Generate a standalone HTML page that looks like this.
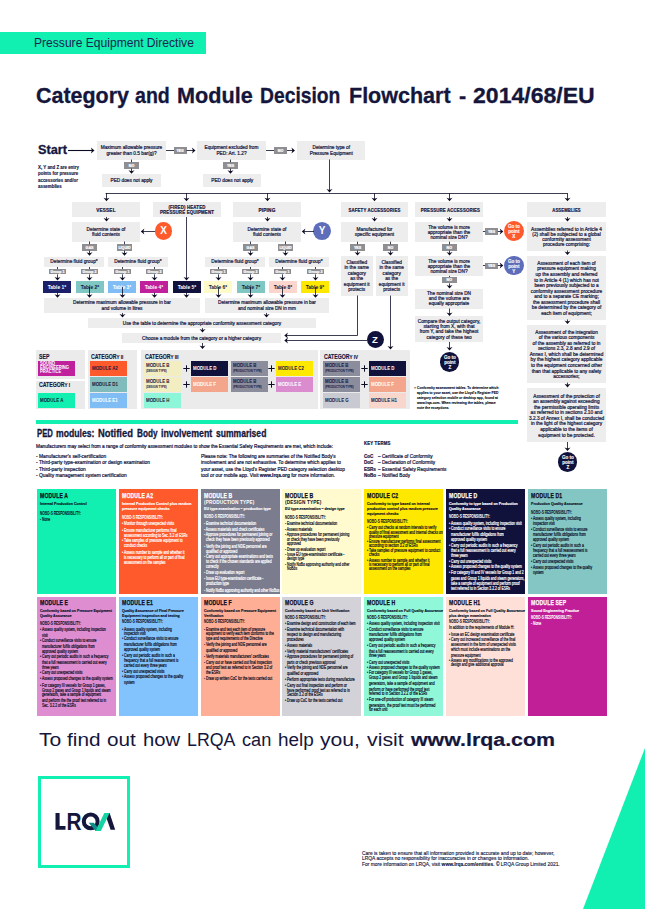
<!DOCTYPE html>
<html lang="en"><head><meta charset="utf-8"><title>Category and Module Decision Flowchart</title>
<style>
html,body{margin:0;padding:0;background:#fff;}
body{width:645px;height:909px;position:relative;overflow:hidden;font-family:"Liberation Sans",sans-serif;}
.a{position:absolute;}
svg.ov{position:absolute;left:0;top:0;z-index:5;pointer-events:none;}
.card{box-sizing:border-box;padding:3.6px 0 0 4.2px;overflow:hidden;}
.card div{white-space:pre;transform-origin:left top;}
.mt{font-size:7.1px;line-height:7.6px;font-weight:700;transform:scaleX(.8);letter-spacing:.2px;}
.mt2{font-size:5.6px;line-height:6.2px;font-weight:700;transform:scaleX(.84);letter-spacing:.15px;}
.ms{font-size:3.6px;line-height:5.1px;font-weight:700;transform:scaleX(.9);margin-top:.8px;}
.mn{font-size:4.3px;line-height:5.4px;font-weight:700;transform:scaleX(.74);}
.mi{font-size:4.3px;transform:scaleX(.8);margin-bottom:.55px;}
</style></head>
<body>
<svg class="ov" width="645" height="909" viewBox="0 0 645 909"><path d="M68 150.5L93.0 150.5" stroke="#0b0c24" stroke-width="1.1" fill="none"/>
<path d="M94.5 150.5L90.9 147.5L91.95 150.5L90.9 153.5Z" fill="#0b0c24"/>
<path d="M166 150.5L174 150.5" stroke="#0b0c24" stroke-width="0.8" fill="none"/>
<path d="M186.5 150.5L194.0 150.5" stroke="#0b0c24" stroke-width="0.8" fill="none"/>
<path d="M195.5 150.5L191.9 147.5L192.95 150.5L191.9 153.5Z" fill="#0b0c24"/>
<path d="M266 150.5L274 150.5" stroke="#0b0c24" stroke-width="0.8" fill="none"/>
<path d="M287 150.5L293.5 150.5" stroke="#0b0c24" stroke-width="0.8" fill="none"/>
<path d="M295 150.5L291.4 147.5L292.45 150.5L291.4 153.5Z" fill="#0b0c24"/>
<path d="M131.5 159.6L131.5 162.2" stroke="#0b0c24" stroke-width="0.8" fill="none"/>
<path d="M131.5 168.6L131.5 172.3" stroke="#0b0c24" stroke-width="0.8" fill="none"/>
<path d="M131.5 173.8L128.5 170.20000000000002L131.5 171.25L134.5 170.20000000000002Z" fill="#0b0c24"/>
<path d="M230.5 159.6L230.5 162.2" stroke="#0b0c24" stroke-width="0.8" fill="none"/>
<path d="M230.5 168.6L230.5 172.3" stroke="#0b0c24" stroke-width="0.8" fill="none"/>
<path d="M230.5 173.8L227.5 170.20000000000002L230.5 171.25L233.5 170.20000000000002Z" fill="#0b0c24"/>
<path d="M329.5 159.5L329.5 191.0" stroke="#0b0c24" stroke-width="0.8" fill="none"/>
<path d="M329.5 192.5L326.5 188.9L329.5 189.95L332.5 188.9Z" fill="#0b0c24"/>
<path d="M105.6 193.5L567.4 193.5" stroke="#0b0c24" stroke-width="0.8" fill="none"/>
<path d="M106.5 193L106.5 199.8" stroke="#0b0c24" stroke-width="0.8" fill="none"/>
<path d="M106.5 201.3L103.5 197.70000000000002L106.5 198.75L109.5 197.70000000000002Z" fill="#0b0c24"/>
<path d="M186.5 193L186.5 199.8" stroke="#0b0c24" stroke-width="0.8" fill="none"/>
<path d="M186.5 201.3L183.5 197.70000000000002L186.5 198.75L189.5 197.70000000000002Z" fill="#0b0c24"/>
<path d="M267.5 193L267.5 199.8" stroke="#0b0c24" stroke-width="0.8" fill="none"/>
<path d="M267.5 201.3L264.5 197.70000000000002L267.5 198.75L270.5 197.70000000000002Z" fill="#0b0c24"/>
<path d="M374.5 193L374.5 199.8" stroke="#0b0c24" stroke-width="0.8" fill="none"/>
<path d="M374.5 201.3L371.5 197.70000000000002L374.5 198.75L377.5 197.70000000000002Z" fill="#0b0c24"/>
<path d="M449.5 193L449.5 199.8" stroke="#0b0c24" stroke-width="0.8" fill="none"/>
<path d="M449.5 201.3L446.5 197.70000000000002L449.5 198.75L452.5 197.70000000000002Z" fill="#0b0c24"/>
<path d="M567.5 193L567.5 199.8" stroke="#0b0c24" stroke-width="0.8" fill="none"/>
<path d="M567.5 201.3L564.5 197.70000000000002L567.5 198.75L570.5 197.70000000000002Z" fill="#0b0c24"/>
<path d="M106.5 217L106.5 220.0" stroke="#0b0c24" stroke-width="0.8" fill="none"/>
<path d="M106.5 221.5L103.5 217.9L106.5 218.95L109.5 217.9Z" fill="#0b0c24"/>
<path d="M267.5 217L267.5 220.0" stroke="#0b0c24" stroke-width="0.8" fill="none"/>
<path d="M267.5 221.5L264.5 217.9L267.5 218.95L270.5 217.9Z" fill="#0b0c24"/>
<path d="M374.5 217L374.5 220.0" stroke="#0b0c24" stroke-width="0.8" fill="none"/>
<path d="M374.5 221.5L371.5 217.9L374.5 218.95L377.5 217.9Z" fill="#0b0c24"/>
<path d="M449.5 217L449.5 220.0" stroke="#0b0c24" stroke-width="0.8" fill="none"/>
<path d="M449.5 221.5L446.5 217.9L449.5 218.95L452.5 217.9Z" fill="#0b0c24"/>
<path d="M567.5 217L567.5 220.0" stroke="#0b0c24" stroke-width="0.8" fill="none"/>
<path d="M567.5 221.5L564.5 217.9L567.5 218.95L570.5 217.9Z" fill="#0b0c24"/>
<path d="M155 231.5L142.3 231.5" stroke="#0b0c24" stroke-width="0.8" fill="none"/>
<path d="M140.8 231.5L144.4 228.5L143.35000000000002 231.5L144.4 234.5Z" fill="#0b0c24"/>
<path d="M314 231.5L303.3 231.5" stroke="#0b0c24" stroke-width="0.8" fill="none"/>
<path d="M301.8 231.5L305.40000000000003 228.5L304.35 231.5L305.40000000000003 234.5Z" fill="#0b0c24"/>
<path d="M89.5 241.5L89.5 244.2" stroke="#0b0c24" stroke-width="0.8" fill="none"/>
<path d="M124.5 241.5L124.5 244.2" stroke="#0b0c24" stroke-width="0.8" fill="none"/>
<path d="M89.5 250.6L89.5 254.3" stroke="#0b0c24" stroke-width="0.8" fill="none"/>
<path d="M89.5 255.8L86.5 252.20000000000002L89.5 253.25L92.5 252.20000000000002Z" fill="#0b0c24"/>
<path d="M124.5 250.6L124.5 254.3" stroke="#0b0c24" stroke-width="0.8" fill="none"/>
<path d="M124.5 255.8L121.5 252.20000000000002L124.5 253.25L127.5 252.20000000000002Z" fill="#0b0c24"/>
<path d="M250.5 241.5L250.5 244.2" stroke="#0b0c24" stroke-width="0.8" fill="none"/>
<path d="M285.5 241.5L285.5 244.2" stroke="#0b0c24" stroke-width="0.8" fill="none"/>
<path d="M250.5 250.6L250.5 254.3" stroke="#0b0c24" stroke-width="0.8" fill="none"/>
<path d="M250.5 255.8L247.5 252.20000000000002L250.5 253.25L253.5 252.20000000000002Z" fill="#0b0c24"/>
<path d="M285.5 250.6L285.5 254.3" stroke="#0b0c24" stroke-width="0.8" fill="none"/>
<path d="M285.5 255.8L282.5 252.20000000000002L285.5 253.25L288.5 252.20000000000002Z" fill="#0b0c24"/>
<path d="M57.5 267L57.5 269" stroke="#0b0c24" stroke-width="0.8" fill="none"/>
<path d="M57.5 274.4L57.5 279.0" stroke="#0b0c24" stroke-width="0.8" fill="none"/>
<path d="M57.5 280.5L54.5 276.9L57.5 277.95L60.5 276.9Z" fill="#0b0c24"/>
<path d="M57.5 292.8L57.5 296.3" stroke="#0b0c24" stroke-width="0.8" fill="none"/>
<path d="M57.5 297.8L54.5 294.2L57.5 295.25L60.5 294.2Z" fill="#0b0c24"/>
<path d="M89.5 267L89.5 269" stroke="#0b0c24" stroke-width="0.8" fill="none"/>
<path d="M89.5 274.4L89.5 279.0" stroke="#0b0c24" stroke-width="0.8" fill="none"/>
<path d="M89.5 280.5L86.5 276.9L89.5 277.95L92.5 276.9Z" fill="#0b0c24"/>
<path d="M89.5 287L89.5 296.3" stroke="#0b0c24" stroke-width="0.8" fill="none"/>
<path d="M89.5 297.8L86.5 294.2L89.5 295.25L92.5 294.2Z" fill="#0b0c24"/>
<path d="M122.5 267L122.5 269" stroke="#0b0c24" stroke-width="0.8" fill="none"/>
<path d="M122.5 274.4L122.5 279.0" stroke="#0b0c24" stroke-width="0.8" fill="none"/>
<path d="M122.5 280.5L119.5 276.9L122.5 277.95L125.5 276.9Z" fill="#0b0c24"/>
<path d="M122.5 287L122.5 296.3" stroke="#0b0c24" stroke-width="0.8" fill="none"/>
<path d="M122.5 297.8L119.5 294.2L122.5 295.25L125.5 294.2Z" fill="#0b0c24"/>
<path d="M154.5 267L154.5 269" stroke="#0b0c24" stroke-width="0.8" fill="none"/>
<path d="M154.5 274.4L154.5 279.0" stroke="#0b0c24" stroke-width="0.8" fill="none"/>
<path d="M154.5 280.5L151.5 276.9L154.5 277.95L157.5 276.9Z" fill="#0b0c24"/>
<path d="M154.5 292.8L154.5 296.3" stroke="#0b0c24" stroke-width="0.8" fill="none"/>
<path d="M154.5 297.8L151.5 294.2L154.5 295.25L157.5 294.2Z" fill="#0b0c24"/>
<path d="M186.5 292.8L186.5 296.3" stroke="#0b0c24" stroke-width="0.8" fill="none"/>
<path d="M186.5 297.8L183.5 294.2L186.5 295.25L189.5 294.2Z" fill="#0b0c24"/>
<path d="M218.5 267L218.5 269" stroke="#0b0c24" stroke-width="0.8" fill="none"/>
<path d="M218.5 274.4L218.5 279.0" stroke="#0b0c24" stroke-width="0.8" fill="none"/>
<path d="M218.5 280.5L215.5 276.9L218.5 277.95L221.5 276.9Z" fill="#0b0c24"/>
<path d="M218.5 287L218.5 296.3" stroke="#0b0c24" stroke-width="0.8" fill="none"/>
<path d="M218.5 297.8L215.5 294.2L218.5 295.25L221.5 294.2Z" fill="#0b0c24"/>
<path d="M250.5 267L250.5 269" stroke="#0b0c24" stroke-width="0.8" fill="none"/>
<path d="M250.5 274.4L250.5 279.0" stroke="#0b0c24" stroke-width="0.8" fill="none"/>
<path d="M250.5 280.5L247.5 276.9L250.5 277.95L253.5 276.9Z" fill="#0b0c24"/>
<path d="M250.5 287L250.5 296.3" stroke="#0b0c24" stroke-width="0.8" fill="none"/>
<path d="M250.5 297.8L247.5 294.2L250.5 295.25L253.5 294.2Z" fill="#0b0c24"/>
<path d="M282.5 267L282.5 269" stroke="#0b0c24" stroke-width="0.8" fill="none"/>
<path d="M282.5 274.4L282.5 279.0" stroke="#0b0c24" stroke-width="0.8" fill="none"/>
<path d="M282.5 280.5L279.5 276.9L282.5 277.95L285.5 276.9Z" fill="#0b0c24"/>
<path d="M282.5 287L282.5 296.3" stroke="#0b0c24" stroke-width="0.8" fill="none"/>
<path d="M282.5 297.8L279.5 294.2L282.5 295.25L285.5 294.2Z" fill="#0b0c24"/>
<path d="M315.5 267L315.5 269" stroke="#0b0c24" stroke-width="0.8" fill="none"/>
<path d="M315.5 274.4L315.5 279.0" stroke="#0b0c24" stroke-width="0.8" fill="none"/>
<path d="M315.5 280.5L312.5 276.9L315.5 277.95L318.5 276.9Z" fill="#0b0c24"/>
<path d="M315.5 287L315.5 296.3" stroke="#0b0c24" stroke-width="0.8" fill="none"/>
<path d="M315.5 297.8L312.5 294.2L315.5 295.25L318.5 294.2Z" fill="#0b0c24"/>
<path d="M186.5 217L186.5 279.0" stroke="#0b0c24" stroke-width="0.8" fill="none"/>
<path d="M186.5 280.5L183.5 276.9L186.5 277.95L189.5 276.9Z" fill="#0b0c24"/>
<path d="M122.5 313L122.5 316.0" stroke="#0b0c24" stroke-width="0.8" fill="none"/>
<path d="M122.5 317.5L119.5 313.9L122.5 314.95L125.5 313.9Z" fill="#0b0c24"/>
<path d="M266.5 313L266.5 316.0" stroke="#0b0c24" stroke-width="0.8" fill="none"/>
<path d="M266.5 317.5L263.5 313.9L266.5 314.95L269.5 313.9Z" fill="#0b0c24"/>
<path d="M202.5 328L202.5 331.0" stroke="#0b0c24" stroke-width="0.8" fill="none"/>
<path d="M202.5 332.5L199.5 328.9L202.5 329.95L205.5 328.9Z" fill="#0b0c24"/>
<path d="M202.5 343L202.5 347.5" stroke="#0b0c24" stroke-width="0.8" fill="none"/>
<path d="M202.5 349L199.5 345.4L202.5 346.45L205.5 345.4Z" fill="#0b0c24"/>
<path d="M357.5 241.7L357.5 244.3" stroke="#0b0c24" stroke-width="0.8" fill="none"/>
<path d="M357.5 250.6L357.5 254.1" stroke="#0b0c24" stroke-width="0.8" fill="none"/>
<path d="M357.5 255.6L354.5 252.0L357.5 253.04999999999998L360.5 252.0Z" fill="#0b0c24"/>
<path d="M390.5 241.7L390.5 244.3" stroke="#0b0c24" stroke-width="0.8" fill="none"/>
<path d="M390.5 250.6L390.5 254.1" stroke="#0b0c24" stroke-width="0.8" fill="none"/>
<path d="M390.5 255.6L387.5 252.0L390.5 253.04999999999998L393.5 252.0Z" fill="#0b0c24"/>
<path d="M357.5 295.5L357.5 335.5L286.5 335.5" stroke="#0b0c24" stroke-width="0.8" fill="none"/>
<path d="M284.3 335.5L287.90000000000003 332.5L286.85 335.5L287.90000000000003 338.5Z" fill="#0b0c24"/>
<path d="M367 340.5L285.8 340.5" stroke="#0b0c24" stroke-width="0.8" fill="none"/>
<path d="M284.3 340.5L287.90000000000003 337.5L286.85 340.5L287.90000000000003 343.5Z" fill="#0b0c24"/>
<path d="M390.5 295.6L390.5 348.0" stroke="#0b0c24" stroke-width="0.8" fill="none"/>
<path d="M390.5 349.5L387.5 345.9L390.5 346.95L393.5 345.9Z" fill="#0b0c24"/>
<path d="M483 231.5L485.2 231.5" stroke="#0b0c24" stroke-width="0.8" fill="none"/>
<path d="M497.8 231.5L501.8 231.5" stroke="#0b0c24" stroke-width="0.8" fill="none"/>
<path d="M503.3 231.5L499.7 228.5L500.75 231.5L499.7 234.5Z" fill="#0b0c24"/>
<path d="M449.5 241.7L449.5 244.3" stroke="#0b0c24" stroke-width="0.8" fill="none"/>
<path d="M449.5 250.6L449.5 254.1" stroke="#0b0c24" stroke-width="0.8" fill="none"/>
<path d="M449.5 255.6L446.5 252.0L449.5 253.04999999999998L452.5 252.0Z" fill="#0b0c24"/>
<path d="M483 265.5L485.2 265.5" stroke="#0b0c24" stroke-width="0.8" fill="none"/>
<path d="M497.8 265.5L501.8 265.5" stroke="#0b0c24" stroke-width="0.8" fill="none"/>
<path d="M503.3 265.5L499.7 262.5L500.75 265.5L499.7 268.5Z" fill="#0b0c24"/>
<path d="M449.5 275.8L449.5 277" stroke="#0b0c24" stroke-width="0.8" fill="none"/>
<path d="M449.5 283.4L449.5 287.1" stroke="#0b0c24" stroke-width="0.8" fill="none"/>
<path d="M449.5 288.6L446.5 285.0L449.5 286.05L452.5 285.0Z" fill="#0b0c24"/>
<path d="M449.5 308.5L449.5 314.5" stroke="#0b0c24" stroke-width="0.8" fill="none"/>
<path d="M449.5 316L446.5 312.4L449.5 313.45L452.5 312.4Z" fill="#0b0c24"/>
<path d="M449.5 342L449.5 349.0" stroke="#0b0c24" stroke-width="0.8" fill="none"/>
<path d="M449.5 350.5L446.5 346.9L449.5 347.95L452.5 346.9Z" fill="#0b0c24"/>
<path d="M567.5 250.5L567.5 253.5" stroke="#0b0c24" stroke-width="0.8" fill="none"/>
<path d="M567.5 255L564.5 251.4L567.5 252.45L570.5 251.4Z" fill="#0b0c24"/>
<path d="M567.5 319.5L567.5 322.5" stroke="#0b0c24" stroke-width="0.8" fill="none"/>
<path d="M567.5 324L564.5 320.4L567.5 321.45L570.5 320.4Z" fill="#0b0c24"/>
<path d="M567.5 382.6L567.5 385.9" stroke="#0b0c24" stroke-width="0.8" fill="none"/>
<path d="M567.5 387.4L564.5 383.79999999999995L567.5 384.84999999999997L570.5 383.79999999999995Z" fill="#0b0c24"/>
<path d="M567.5 442L567.5 449.5" stroke="#0b0c24" stroke-width="0.8" fill="none"/>
<path d="M567.5 451L564.5 447.4L567.5 448.45L570.5 447.4Z" fill="#0b0c24"/>
<path d="M183.3 368.5H189.7M186.5 365.3V371.7" stroke="#0b0c24" stroke-width="1" fill="none"/>
<path d="M268.3 368.5H274.7M271.5 365.3V371.7" stroke="#0b0c24" stroke-width="1" fill="none"/>
<path d="M183.3 384.5H189.7M186.5 381.3V387.7" stroke="#0b0c24" stroke-width="1" fill="none"/>
<path d="M268.3 384.5H274.7M271.5 381.3V387.7" stroke="#0b0c24" stroke-width="1" fill="none"/>
<path d="M361.3 368.5H367.7M364.5 365.3V371.7" stroke="#0b0c24" stroke-width="1" fill="none"/>
<path d="M361.3 384.5H367.7M364.5 381.3V387.7" stroke="#0b0c24" stroke-width="1" fill="none"/>
<g>
<path d="M55.5 813h4.1v13.1h5.9v3.7h-10z" fill="#14163c"/>
<text transform="translate(66.45 829.8) scale(0.9 1)" font-family="Liberation Sans, sans-serif" font-weight="700" font-size="23.1" fill="#14163c">R</text>
<circle cx="90.7" cy="821.4" r="6.9" stroke="#14163c" stroke-width="4" fill="none"/>
<path d="M107.1 813L109.6 813L115.2 829.8L110.6 829.8L105.6 815.5Z" fill="#14163c"/>
<path d="M88.6 822.8L93.8 822.8L100.9 831L95.6 831Z" fill="#0f8c88"/>
<path d="M104.3 813L109.6 813L100.9 831L95.6 831Z" fill="#16d3a4"/>
</g>
<path d="M645 748L583 909L645 909Z" fill="#11efb1"/></svg>
<div class="a" style="left:0;top:32px;width:205.8px;height:22px;background:#11efb1"></div>
<div class="a" style="left:34.3px;top:35.6px;font-size:11.9px;line-height:14px;color:#1d2350;white-space:nowrap;font-weight:400;transform:scaleX(1.0165);transform-origin:left top;">Pressure Equipment Directive</div>
<div class="a" style="left:35.6px;top:83.2px;font-size:21.5px;line-height:26px;color:#14163c;white-space:nowrap;font-weight:700;transform:scaleX(0.9978);transform-origin:left top;-webkit-text-stroke:0.3px #14163c;">Category</div>
<div class="a" style="left:134.7px;top:83.2px;font-size:21.5px;line-height:26px;color:#14163c;white-space:nowrap;font-weight:700;transform:scaleX(0.9106);transform-origin:left top;-webkit-text-stroke:0.3px #14163c;">and</div>
<div class="a" style="left:176.5px;top:83.2px;font-size:21.5px;line-height:26px;color:#14163c;white-space:nowrap;font-weight:700;transform:scaleX(1.0073);transform-origin:left top;-webkit-text-stroke:0.3px #14163c;">Module</div>
<div class="a" style="left:260.0px;top:83.2px;font-size:21.5px;line-height:26px;color:#14163c;white-space:nowrap;font-weight:700;transform:scaleX(0.8973);transform-origin:left top;-webkit-text-stroke:0.3px #14163c;">Decision</div>
<div class="a" style="left:349.3px;top:83.2px;font-size:21.5px;line-height:26px;color:#14163c;white-space:nowrap;font-weight:700;transform:scaleX(1.0007);transform-origin:left top;-webkit-text-stroke:0.3px #14163c;">Flowchart</div>
<div class="a" style="left:459.3px;top:83.2px;font-size:21.5px;line-height:26px;color:#14163c;white-space:nowrap;font-weight:700;transform:scaleX(1.0072);transform-origin:left top;-webkit-text-stroke:0.3px #14163c;">-</div>
<div class="a" style="left:473.2px;top:83.2px;font-size:21.5px;line-height:26px;color:#14163c;white-space:nowrap;font-weight:700;transform:scaleX(1.0716);transform-origin:left top;-webkit-text-stroke:0.3px #14163c;">2014/68/EU</div>
<div class="a" style="left:37.6px;top:140.8px;font-size:12.6px;line-height:18px;color:#14163c;white-space:nowrap;font-weight:700;transform:scaleX(1.0102);transform-origin:left top;-webkit-text-stroke:0.3px #14163c;">Start</div>
<div class="a" style="left:97px;top:141px;width:69px;height:18.6px;background:#ededed;"><div style="position:absolute;left:0;top:3px;width:69px;font-size:5.0px;line-height:6px;color:#15173f;text-align:center;white-space:nowrap;font-weight:400;transform:scaleX(0.95);transform-origin:center center;-webkit-text-stroke:0.22px #15173f;">Maximum allowable pressure</div><div style="position:absolute;left:0;top:9px;width:69px;font-size:5.0px;line-height:6px;color:#15173f;text-align:center;white-space:nowrap;font-weight:400;transform:scaleX(0.95);transform-origin:center center;-webkit-text-stroke:0.22px #15173f;">greater than 0.5 bar(g)?</div></div>
<div class="a" style="left:173.5px;top:147.3px;width:13px;height:6.4px;background:#8e8e93;"><div style="position:absolute;left:0;top:1.6999999999999886px;width:13px;font-size:3.6px;line-height:4px;color:#fff;text-align:center;white-space:nowrap;font-weight:700;-webkit-text-stroke:0.22px #fff;">YES</div></div>
<div class="a" style="left:197px;top:141px;width:69px;height:18.6px;background:#ededed;"><div style="position:absolute;left:0;top:3px;width:69px;font-size:5.0px;line-height:6px;color:#15173f;text-align:center;white-space:nowrap;font-weight:400;transform:scaleX(0.95);transform-origin:center center;-webkit-text-stroke:0.22px #15173f;">Equipment excluded from</div><div style="position:absolute;left:0;top:9px;width:69px;font-size:5.0px;line-height:6px;color:#15173f;text-align:center;white-space:nowrap;font-weight:400;transform:scaleX(0.95);transform-origin:center center;-webkit-text-stroke:0.22px #15173f;">PED: Art. 1.2?</div></div>
<div class="a" style="left:274.0px;top:147.3px;width:13px;height:6.4px;background:#8e8e93;"><div style="position:absolute;left:0;top:1.6999999999999886px;width:13px;font-size:3.6px;line-height:4px;color:#fff;text-align:center;white-space:nowrap;font-weight:700;-webkit-text-stroke:0.22px #fff;">NO</div></div>
<div class="a" style="left:296.5px;top:141px;width:68.5px;height:18.6px;background:#ededed;"><div style="position:absolute;left:0;top:3px;width:68.5px;font-size:5.0px;line-height:6px;color:#15173f;text-align:center;white-space:nowrap;font-weight:400;transform:scaleX(0.95);transform-origin:center center;-webkit-text-stroke:0.22px #15173f;">Determine type of</div><div style="position:absolute;left:0;top:9px;width:68.5px;font-size:5.0px;line-height:6px;color:#15173f;text-align:center;white-space:nowrap;font-weight:400;transform:scaleX(0.95);transform-origin:center center;-webkit-text-stroke:0.22px #15173f;">Pressure Equipment</div></div>
<div class="a" style="left:124.0px;top:162.2px;width:15px;height:6.4px;background:#8e8e93;"><div style="position:absolute;left:0;top:1.8000000000000114px;width:15px;font-size:3.6px;line-height:4px;color:#fff;text-align:center;white-space:nowrap;font-weight:700;-webkit-text-stroke:0.22px #fff;">NO</div></div>
<div class="a" style="left:102px;top:174.2px;width:59px;height:12.7px;background:#ededed;"><div style="position:absolute;left:0;top:2.8000000000000114px;width:59px;font-size:5.0px;line-height:6px;color:#15173f;text-align:center;white-space:nowrap;font-weight:400;transform:scaleX(0.95);transform-origin:center center;-webkit-text-stroke:0.22px #15173f;">PED does not apply</div></div>
<div class="a" style="left:223.0px;top:162.2px;width:15px;height:6.4px;background:#8e8e93;"><div style="position:absolute;left:0;top:1.8000000000000114px;width:15px;font-size:3.6px;line-height:4px;color:#fff;text-align:center;white-space:nowrap;font-weight:700;-webkit-text-stroke:0.22px #fff;">YES</div></div>
<div class="a" style="left:202.5px;top:174.2px;width:58.5px;height:12.7px;background:#ededed;"><div style="position:absolute;left:0;top:2.8000000000000114px;width:58.5px;font-size:5.0px;line-height:6px;color:#15173f;text-align:center;white-space:nowrap;font-weight:400;transform:scaleX(0.95);transform-origin:center center;-webkit-text-stroke:0.22px #15173f;">PED does not apply</div></div>
<div class="a" style="left:38px;top:164.8px;font-size:4.9px;line-height:6.4px;color:#15173f;white-space:nowrap;font-weight:700;transform:scaleX(0.8997);transform-origin:left top;-webkit-text-stroke:0.15px #15173f;">X, Y and Z are entry<br>points for pressure<br>accessories and/or<br>assemblies</div>
<div class="a" style="left:72px;top:202px;width:68px;height:15px;background:#ededed;"><div style="position:absolute;left:0;top:5px;width:68px;font-size:5.2px;line-height:6px;color:#15173f;text-align:center;white-space:nowrap;font-weight:700;letter-spacing:0.2px;transform:scaleX(0.8886);transform-origin:center center;-webkit-text-stroke:0.22px #15173f;">VESSEL</div></div>
<div class="a" style="left:153px;top:202px;width:68px;height:15px;background:#ededed;"><div style="position:absolute;left:0;top:2px;width:68px;font-size:5.2px;line-height:6px;color:#15173f;text-align:center;white-space:nowrap;font-weight:700;letter-spacing:0.2px;transform:scaleX(0.841);transform-origin:center center;-webkit-text-stroke:0.22px #15173f;">(FIRED) HEATED</div><div style="position:absolute;left:0;top:7px;width:68px;font-size:5.2px;line-height:6px;color:#15173f;text-align:center;white-space:nowrap;font-weight:700;letter-spacing:0.2px;transform:scaleX(0.841);transform-origin:center center;-webkit-text-stroke:0.22px #15173f;">PRESSURE EQUIPMENT</div></div>
<div class="a" style="left:233px;top:202px;width:68px;height:15px;background:#ededed;"><div style="position:absolute;left:0;top:5px;width:68px;font-size:5.2px;line-height:6px;color:#15173f;text-align:center;white-space:nowrap;font-weight:700;letter-spacing:0.2px;transform:scaleX(0.903);transform-origin:center center;-webkit-text-stroke:0.22px #15173f;">PIPING</div></div>
<div class="a" style="left:341px;top:202px;width:67px;height:15px;background:#ededed;"><div style="position:absolute;left:0;top:5px;width:67px;font-size:5.2px;line-height:6px;color:#15173f;text-align:center;white-space:nowrap;font-weight:700;letter-spacing:0.2px;transform:scaleX(0.8238);transform-origin:center center;-webkit-text-stroke:0.22px #15173f;">SAFETY ACCESSORIES</div></div>
<div class="a" style="left:415px;top:202px;width:68px;height:15px;background:#ededed;"><div style="position:absolute;left:0;top:5px;width:68px;font-size:5.2px;line-height:6px;color:#15173f;text-align:center;white-space:nowrap;font-weight:700;letter-spacing:0.2px;transform:scaleX(0.8297);transform-origin:center center;-webkit-text-stroke:0.22px #15173f;">PRESSURE ACCESSORIES</div></div>
<div class="a" style="left:527px;top:202px;width:79px;height:15px;background:#ededed;"><div style="position:absolute;left:0;top:5px;width:79px;font-size:5.2px;line-height:6px;color:#15173f;text-align:center;white-space:nowrap;font-weight:700;letter-spacing:0.2px;transform:scaleX(0.796);transform-origin:center center;-webkit-text-stroke:0.22px #15173f;">ASSEMBLIES</div></div>
<div class="a" style="left:72px;top:222px;width:68px;height:20px;background:#ededed;"><div style="position:absolute;left:0;top:4px;width:68px;font-size:5.0px;line-height:6px;color:#15173f;text-align:center;white-space:nowrap;font-weight:400;transform:scaleX(0.95);transform-origin:center center;-webkit-text-stroke:0.22px #15173f;">Determine state of</div><div style="position:absolute;left:0;top:9px;width:68px;font-size:5.0px;line-height:6px;color:#15173f;text-align:center;white-space:nowrap;font-weight:400;transform:scaleX(0.95);transform-origin:center center;-webkit-text-stroke:0.22px #15173f;">fluid contents</div></div>
<div class="a" style="left:154.55px;top:222.05px;width:17.9px;height:17.9px;border-radius:50%;background:#ff5a2c;display:flex;justify-content:center;align-items:center;"><div style="font-size:10px;line-height:10px;color:#fff;text-align:center;font-weight:700;white-space:nowrap;">X</div></div>
<div class="a" style="left:233px;top:222px;width:68px;height:20px;background:#ededed;"><div style="position:absolute;left:0;top:4px;width:68px;font-size:5.0px;line-height:6px;color:#15173f;text-align:center;white-space:nowrap;font-weight:400;transform:scaleX(0.95);transform-origin:center center;-webkit-text-stroke:0.22px #15173f;">Determine state of</div><div style="position:absolute;left:0;top:9px;width:68px;font-size:5.0px;line-height:6px;color:#15173f;text-align:center;white-space:nowrap;font-weight:400;transform:scaleX(0.95);transform-origin:center center;-webkit-text-stroke:0.22px #15173f;">fluid contents</div></div>
<div class="a" style="left:313.05px;top:222.05px;width:17.9px;height:17.9px;border-radius:50%;background:#5e6dba;display:flex;justify-content:center;align-items:center;"><div style="font-size:10px;line-height:10px;color:#fff;text-align:center;font-weight:700;white-space:nowrap;">Y</div></div>
<div class="a" style="left:81.75px;top:244.2px;width:15.5px;height:6.4px;background:#8e8e93;"><div style="position:absolute;left:0;top:1.8000000000000114px;width:15.5px;font-size:3.6px;line-height:4px;color:#fff;text-align:center;white-space:nowrap;font-weight:700;-webkit-text-stroke:0.22px #fff;">GAS</div></div>
<div class="a" style="left:116.75px;top:244.2px;width:15.5px;height:6.4px;background:#8e8e93;"><div style="position:absolute;left:0;top:1.8000000000000114px;width:15.5px;font-size:3.6px;line-height:4px;color:#fff;text-align:center;white-space:nowrap;font-weight:700;-webkit-text-stroke:0.22px #fff;">LIQUID</div></div>
<div class="a" style="left:44px;top:256.5px;width:60px;height:10.5px;background:#ededed;"><div style="position:absolute;left:0;top:1.5px;width:60px;font-size:5.0px;line-height:6px;color:#15173f;text-align:center;white-space:nowrap;font-weight:400;transform:scaleX(0.95);transform-origin:center center;-webkit-text-stroke:0.22px #15173f;">Determine fluid group*</div></div>
<div class="a" style="left:108.2px;top:256.5px;width:59.7px;height:10.5px;background:#ededed;"><div style="position:absolute;left:0;top:1.5px;width:59.7px;font-size:5.0px;line-height:6px;color:#15173f;text-align:center;white-space:nowrap;font-weight:400;transform:scaleX(0.95);transform-origin:center center;-webkit-text-stroke:0.22px #15173f;">Determine fluid group*</div></div>
<div class="a" style="left:242.75px;top:244.2px;width:15.5px;height:6.4px;background:#8e8e93;"><div style="position:absolute;left:0;top:1.8000000000000114px;width:15.5px;font-size:3.6px;line-height:4px;color:#fff;text-align:center;white-space:nowrap;font-weight:700;-webkit-text-stroke:0.22px #fff;">GAS</div></div>
<div class="a" style="left:277.75px;top:244.2px;width:15.5px;height:6.4px;background:#8e8e93;"><div style="position:absolute;left:0;top:1.8000000000000114px;width:15.5px;font-size:3.6px;line-height:4px;color:#fff;text-align:center;white-space:nowrap;font-weight:700;-webkit-text-stroke:0.22px #fff;">LIQUID</div></div>
<div class="a" style="left:205px;top:256.5px;width:60px;height:10.5px;background:#ededed;"><div style="position:absolute;left:0;top:1.5px;width:60px;font-size:5.0px;line-height:6px;color:#15173f;text-align:center;white-space:nowrap;font-weight:400;transform:scaleX(0.95);transform-origin:center center;-webkit-text-stroke:0.22px #15173f;">Determine fluid group*</div></div>
<div class="a" style="left:269.2px;top:256.5px;width:59.7px;height:10.5px;background:#ededed;"><div style="position:absolute;left:0;top:1.5px;width:59.7px;font-size:5.0px;line-height:6px;color:#15173f;text-align:center;white-space:nowrap;font-weight:400;transform:scaleX(0.95);transform-origin:center center;-webkit-text-stroke:0.22px #15173f;">Determine fluid group*</div></div>
<div class="a" style="left:43.4px;top:280.8px;width:28px;height:12px;background:#1c2068;"><div style="position:absolute;left:0;top:3.1999999999999886px;width:28px;font-size:5.4px;line-height:6px;color:#fff;text-align:center;white-space:nowrap;font-weight:700;transform:scaleX(0.9159);transform-origin:center center;">Table 1*</div></div>
<div class="a" style="left:49.0px;top:268.9px;width:17px;height:5.5px;background:#8e8e93;"><div style="position:absolute;left:0;top:1.1000000000000227px;width:17px;font-size:3.6px;line-height:4px;color:#fff;text-align:center;white-space:nowrap;font-weight:700;-webkit-text-stroke:0.22px #fff;">Group 1</div></div>
<div class="a" style="left:75.7px;top:280.8px;width:28px;height:12px;background:#80c6c2;"><div style="position:absolute;left:0;top:3.1999999999999886px;width:28px;font-size:5.4px;line-height:6px;color:#15173f;text-align:center;white-space:nowrap;font-weight:700;transform:scaleX(0.9159);transform-origin:center center;">Table 2*</div></div>
<div class="a" style="left:81.0px;top:268.9px;width:17px;height:5.5px;background:#8e8e93;"><div style="position:absolute;left:0;top:1.1000000000000227px;width:17px;font-size:3.6px;line-height:4px;color:#fff;text-align:center;white-space:nowrap;font-weight:700;-webkit-text-stroke:0.22px #fff;">Group 2</div></div>
<div class="a" style="left:108.0px;top:280.8px;width:28px;height:12px;background:#80bdf5;"><div style="position:absolute;left:0;top:3.1999999999999886px;width:28px;font-size:5.4px;line-height:6px;color:#fff;text-align:center;white-space:nowrap;font-weight:700;transform:scaleX(0.9159);transform-origin:center center;">Table 3*</div></div>
<div class="a" style="left:114.0px;top:268.9px;width:17px;height:5.5px;background:#8e8e93;"><div style="position:absolute;left:0;top:1.1000000000000227px;width:17px;font-size:3.6px;line-height:4px;color:#fff;text-align:center;white-space:nowrap;font-weight:700;-webkit-text-stroke:0.22px #fff;">Group 1</div></div>
<div class="a" style="left:140.3px;top:280.8px;width:28px;height:12px;background:#c0209c;"><div style="position:absolute;left:0;top:3.1999999999999886px;width:28px;font-size:5.4px;line-height:6px;color:#fff;text-align:center;white-space:nowrap;font-weight:700;transform:scaleX(0.9159);transform-origin:center center;">Table 4*</div></div>
<div class="a" style="left:146.0px;top:268.9px;width:17px;height:5.5px;background:#8e8e93;"><div style="position:absolute;left:0;top:1.1000000000000227px;width:17px;font-size:3.6px;line-height:4px;color:#fff;text-align:center;white-space:nowrap;font-weight:700;-webkit-text-stroke:0.22px #fff;">Group 2</div></div>
<div class="a" style="left:172.6px;top:280.8px;width:28px;height:12px;background:#10123c;"><div style="position:absolute;left:0;top:3.1999999999999886px;width:28px;font-size:5.4px;line-height:6px;color:#fff;text-align:center;white-space:nowrap;font-weight:700;transform:scaleX(0.9159);transform-origin:center center;">Table 5*</div></div>
<div class="a" style="left:204.3px;top:280.8px;width:28px;height:12px;background:#fffbc8;"><div style="position:absolute;left:0;top:3.1999999999999886px;width:28px;font-size:5.4px;line-height:6px;color:#15173f;text-align:center;white-space:nowrap;font-weight:700;transform:scaleX(0.9159);transform-origin:center center;">Table 6*</div></div>
<div class="a" style="left:210.0px;top:268.9px;width:17px;height:5.5px;background:#8e8e93;"><div style="position:absolute;left:0;top:1.1000000000000227px;width:17px;font-size:3.6px;line-height:4px;color:#fff;text-align:center;white-space:nowrap;font-weight:700;-webkit-text-stroke:0.22px #fff;">Group 1</div></div>
<div class="a" style="left:236.6px;top:280.8px;width:28px;height:12px;background:#80c6c2;"><div style="position:absolute;left:0;top:3.1999999999999886px;width:28px;font-size:5.4px;line-height:6px;color:#15173f;text-align:center;white-space:nowrap;font-weight:700;transform:scaleX(0.9159);transform-origin:center center;">Table 7*</div></div>
<div class="a" style="left:242.0px;top:268.9px;width:17px;height:5.5px;background:#8e8e93;"><div style="position:absolute;left:0;top:1.1000000000000227px;width:17px;font-size:3.6px;line-height:4px;color:#fff;text-align:center;white-space:nowrap;font-weight:700;-webkit-text-stroke:0.22px #fff;">Group 2</div></div>
<div class="a" style="left:268.9px;top:280.8px;width:28px;height:12px;background:#fcd6cc;"><div style="position:absolute;left:0;top:3.1999999999999886px;width:28px;font-size:5.4px;line-height:6px;color:#15173f;text-align:center;white-space:nowrap;font-weight:700;transform:scaleX(0.9159);transform-origin:center center;">Table 8*</div></div>
<div class="a" style="left:274.0px;top:268.9px;width:17px;height:5.5px;background:#8e8e93;"><div style="position:absolute;left:0;top:1.1000000000000227px;width:17px;font-size:3.6px;line-height:4px;color:#fff;text-align:center;white-space:nowrap;font-weight:700;-webkit-text-stroke:0.22px #fff;">Group 1</div></div>
<div class="a" style="left:301.2px;top:280.8px;width:28px;height:12px;background:#ffe800;"><div style="position:absolute;left:0;top:3.1999999999999886px;width:28px;font-size:5.4px;line-height:6px;color:#15173f;text-align:center;white-space:nowrap;font-weight:700;transform:scaleX(0.9159);transform-origin:center center;">Table 9*</div></div>
<div class="a" style="left:307.0px;top:268.9px;width:17px;height:5.5px;background:#8e8e93;"><div style="position:absolute;left:0;top:1.1000000000000227px;width:17px;font-size:3.6px;line-height:4px;color:#fff;text-align:center;white-space:nowrap;font-weight:700;-webkit-text-stroke:0.22px #fff;">Group 2</div></div>
<div class="a" style="left:44px;top:298px;width:156px;height:15px;background:#ededed;"><div style="position:absolute;left:0;top:1px;width:156px;font-size:5.0px;line-height:6px;color:#15173f;text-align:center;white-space:nowrap;font-weight:400;transform:scaleX(0.95);transform-origin:center center;-webkit-text-stroke:0.22px #15173f;">Determine maximum allowable pressure in bar</div><div style="position:absolute;left:0;top:7px;width:156px;font-size:5.0px;line-height:6px;color:#15173f;text-align:center;white-space:nowrap;font-weight:400;transform:scaleX(0.95);transform-origin:center center;-webkit-text-stroke:0.22px #15173f;">and volume in litres</div></div>
<div class="a" style="left:205px;top:298px;width:124px;height:15px;background:#ededed;"><div style="position:absolute;left:0;top:1px;width:124px;font-size:5.0px;line-height:6px;color:#15173f;text-align:center;white-space:nowrap;font-weight:400;transform:scaleX(0.95);transform-origin:center center;-webkit-text-stroke:0.22px #15173f;">Determine maximum allowable pressure in bar</div><div style="position:absolute;left:0;top:7px;width:124px;font-size:5.0px;line-height:6px;color:#15173f;text-align:center;white-space:nowrap;font-weight:400;transform:scaleX(0.95);transform-origin:center center;-webkit-text-stroke:0.22px #15173f;">and nominal size DN in mm</div></div>
<div class="a" style="left:88px;top:318px;width:228px;height:10px;background:#ededed;"><div style="position:absolute;left:0;top:2px;width:228px;font-size:5.0px;line-height:6px;color:#15173f;text-align:center;white-space:nowrap;font-weight:400;transform:scaleX(0.95);transform-origin:center center;-webkit-text-stroke:0.22px #15173f;">Use the table to determine the appropriate conformity assessment category</div></div>
<div class="a" style="left:122px;top:333px;width:159px;height:10px;background:#ededed;"><div style="position:absolute;left:0;top:2px;width:159px;font-size:5.0px;line-height:6px;color:#15173f;text-align:center;white-space:nowrap;font-weight:400;transform:scaleX(0.95);transform-origin:center center;-webkit-text-stroke:0.22px #15173f;">Choose a module from the category or a higher category</div></div>
<div class="a" style="left:341px;top:222px;width:67px;height:19.7px;background:#ededed;"><div style="position:absolute;left:0;top:4px;width:67px;font-size:5.0px;line-height:6px;color:#15173f;text-align:center;white-space:nowrap;font-weight:400;transform:scaleX(0.95);transform-origin:center center;-webkit-text-stroke:0.22px #15173f;">Manufactured for</div><div style="position:absolute;left:0;top:9px;width:67px;font-size:5.0px;line-height:6px;color:#15173f;text-align:center;white-space:nowrap;font-weight:400;transform:scaleX(0.95);transform-origin:center center;-webkit-text-stroke:0.22px #15173f;">specific equipment</div></div>
<div class="a" style="left:349.75px;top:244.2px;width:15.5px;height:6.4px;background:#8e8e93;"><div style="position:absolute;left:0;top:1.8000000000000114px;width:15.5px;font-size:3.6px;line-height:4px;color:#fff;text-align:center;white-space:nowrap;font-weight:700;-webkit-text-stroke:0.22px #fff;">YES</div></div>
<div class="a" style="left:382.75px;top:244.2px;width:15.5px;height:6.4px;background:#8e8e93;"><div style="position:absolute;left:0;top:1.8000000000000114px;width:15.5px;font-size:3.6px;line-height:4px;color:#fff;text-align:center;white-space:nowrap;font-weight:700;-webkit-text-stroke:0.22px #fff;">NO</div></div>
<div class="a" style="left:341.2px;top:256.3px;width:31.5px;height:39.3px;background:#ededed;"><div style="position:absolute;left:0;top:2.6999999999999886px;width:31.5px;font-size:5.0px;line-height:6px;color:#15173f;text-align:center;white-space:nowrap;font-weight:400;transform:scaleX(0.95);transform-origin:center center;-webkit-text-stroke:0.22px #15173f;">Classified</div><div style="position:absolute;left:0;top:7.699999999999989px;width:31.5px;font-size:5.0px;line-height:6px;color:#15173f;text-align:center;white-space:nowrap;font-weight:400;transform:scaleX(0.95);transform-origin:center center;-webkit-text-stroke:0.22px #15173f;">in the same</div><div style="position:absolute;left:0;top:13.699999999999989px;width:31.5px;font-size:5.0px;line-height:6px;color:#15173f;text-align:center;white-space:nowrap;font-weight:400;transform:scaleX(0.95);transform-origin:center center;-webkit-text-stroke:0.22px #15173f;">category</div><div style="position:absolute;left:0;top:18.69999999999999px;width:31.5px;font-size:5.0px;line-height:6px;color:#15173f;text-align:center;white-space:nowrap;font-weight:400;transform:scaleX(0.95);transform-origin:center center;-webkit-text-stroke:0.22px #15173f;">as the</div><div style="position:absolute;left:0;top:24.69999999999999px;width:31.5px;font-size:5.0px;line-height:6px;color:#15173f;text-align:center;white-space:nowrap;font-weight:400;transform:scaleX(0.95);transform-origin:center center;-webkit-text-stroke:0.22px #15173f;">equipment it</div><div style="position:absolute;left:0;top:29.69999999999999px;width:31.5px;font-size:5.0px;line-height:6px;color:#15173f;text-align:center;white-space:nowrap;font-weight:400;transform:scaleX(0.95);transform-origin:center center;-webkit-text-stroke:0.22px #15173f;">protects</div></div>
<div class="a" style="left:376.4px;top:256.3px;width:31.4px;height:39.3px;background:#ededed;"><div style="position:absolute;left:0;top:2.6999999999999886px;width:31.4px;font-size:5.0px;line-height:6px;color:#15173f;text-align:center;white-space:nowrap;font-weight:400;transform:scaleX(0.95);transform-origin:center center;-webkit-text-stroke:0.22px #15173f;">Classified</div><div style="position:absolute;left:0;top:7.699999999999989px;width:31.4px;font-size:5.0px;line-height:6px;color:#15173f;text-align:center;white-space:nowrap;font-weight:400;transform:scaleX(0.95);transform-origin:center center;-webkit-text-stroke:0.22px #15173f;">in the same</div><div style="position:absolute;left:0;top:13.699999999999989px;width:31.4px;font-size:5.0px;line-height:6px;color:#15173f;text-align:center;white-space:nowrap;font-weight:400;transform:scaleX(0.95);transform-origin:center center;-webkit-text-stroke:0.22px #15173f;">category</div><div style="position:absolute;left:0;top:18.69999999999999px;width:31.4px;font-size:5.0px;line-height:6px;color:#15173f;text-align:center;white-space:nowrap;font-weight:400;transform:scaleX(0.95);transform-origin:center center;-webkit-text-stroke:0.22px #15173f;">as the</div><div style="position:absolute;left:0;top:24.69999999999999px;width:31.4px;font-size:5.0px;line-height:6px;color:#15173f;text-align:center;white-space:nowrap;font-weight:400;transform:scaleX(0.95);transform-origin:center center;-webkit-text-stroke:0.22px #15173f;">equipment it</div><div style="position:absolute;left:0;top:29.69999999999999px;width:31.4px;font-size:5.0px;line-height:6px;color:#15173f;text-align:center;white-space:nowrap;font-weight:400;transform:scaleX(0.95);transform-origin:center center;-webkit-text-stroke:0.22px #15173f;">protects</div></div>
<div class="a" style="left:366.5px;top:331.3px;width:17.0px;height:17.0px;border-radius:50%;background:#10123c;display:flex;justify-content:center;align-items:center;"><div style="font-size:9.5px;line-height:9.5px;color:#fff;text-align:center;font-weight:700;white-space:nowrap;">Z</div></div>
<div class="a" style="left:415px;top:222px;width:68px;height:20px;background:#ededed;"><div style="position:absolute;left:0;top:2px;width:68px;font-size:5.0px;line-height:6px;color:#15173f;text-align:center;white-space:nowrap;font-weight:400;transform:scaleX(0.95);transform-origin:center center;-webkit-text-stroke:0.22px #15173f;">The volume is more</div><div style="position:absolute;left:0;top:7px;width:68px;font-size:5.0px;line-height:6px;color:#15173f;text-align:center;white-space:nowrap;font-weight:400;transform:scaleX(0.95);transform-origin:center center;-webkit-text-stroke:0.22px #15173f;">appropriate than the</div><div style="position:absolute;left:0;top:12px;width:68px;font-size:5.0px;line-height:6px;color:#15173f;text-align:center;white-space:nowrap;font-weight:400;transform:scaleX(0.95);transform-origin:center center;-webkit-text-stroke:0.22px #15173f;">nominal size DN?</div></div>
<div class="a" style="left:485.1px;top:228.2px;width:12.8px;height:6.4px;background:#8e8e93;"><div style="position:absolute;left:0;top:1.8000000000000114px;width:12.8px;font-size:3.6px;line-height:4px;color:#fff;text-align:center;white-space:nowrap;font-weight:700;-webkit-text-stroke:0.22px #fff;">YES</div></div>
<div class="a" style="left:504.1px;top:220.9px;width:19.8px;height:19.8px;border-radius:50%;background:#ff5a2c;display:flex;justify-content:center;align-items:center;"><div style="font-size:6px;line-height:5.0px;color:#fff;text-align:center;font-weight:700;white-space:nowrap;transform:scaleX(0.76);position:relative;top:0.9px;-webkit-text-stroke:0.12px #fff;">Go to<br>point<br>X</div></div>
<div class="a" style="left:441.55px;top:244.2px;width:15.5px;height:6.4px;background:#8e8e93;"><div style="position:absolute;left:0;top:1.8000000000000114px;width:15.5px;font-size:3.6px;line-height:4px;color:#fff;text-align:center;white-space:nowrap;font-weight:700;-webkit-text-stroke:0.22px #fff;">NO</div></div>
<div class="a" style="left:415px;top:256px;width:68px;height:20px;background:#ededed;"><div style="position:absolute;left:0;top:2px;width:68px;font-size:5.0px;line-height:6px;color:#15173f;text-align:center;white-space:nowrap;font-weight:400;transform:scaleX(0.95);transform-origin:center center;-webkit-text-stroke:0.22px #15173f;">The volume is more</div><div style="position:absolute;left:0;top:7px;width:68px;font-size:5.0px;line-height:6px;color:#15173f;text-align:center;white-space:nowrap;font-weight:400;transform:scaleX(0.95);transform-origin:center center;-webkit-text-stroke:0.22px #15173f;">appropriate than the</div><div style="position:absolute;left:0;top:12px;width:68px;font-size:5.0px;line-height:6px;color:#15173f;text-align:center;white-space:nowrap;font-weight:400;transform:scaleX(0.95);transform-origin:center center;-webkit-text-stroke:0.22px #15173f;">nominal size DN?</div></div>
<div class="a" style="left:485.1px;top:262.5px;width:12.8px;height:6.4px;background:#8e8e93;"><div style="position:absolute;left:0;top:1.5px;width:12.8px;font-size:3.6px;line-height:4px;color:#fff;text-align:center;white-space:nowrap;font-weight:700;-webkit-text-stroke:0.22px #fff;">YES</div></div>
<div class="a" style="left:504.1px;top:255.49999999999997px;width:19.8px;height:19.8px;border-radius:50%;background:#5e6dba;display:flex;justify-content:center;align-items:center;"><div style="font-size:6px;line-height:5.0px;color:#fff;text-align:center;font-weight:700;white-space:nowrap;transform:scaleX(0.76);position:relative;top:0.9px;-webkit-text-stroke:0.12px #fff;">Go to<br>point<br>Y</div></div>
<div class="a" style="left:441.55px;top:277px;width:15.5px;height:6.4px;background:#8e8e93;"><div style="position:absolute;left:0;top:1px;width:15.5px;font-size:3.6px;line-height:4px;color:#fff;text-align:center;white-space:nowrap;font-weight:700;-webkit-text-stroke:0.22px #fff;">NO</div></div>
<div class="a" style="left:415px;top:289px;width:68px;height:19.5px;background:#ededed;"><div style="position:absolute;left:0;top:1px;width:68px;font-size:5.0px;line-height:6px;color:#15173f;text-align:center;white-space:nowrap;font-weight:400;transform:scaleX(0.95);transform-origin:center center;-webkit-text-stroke:0.22px #15173f;">The nominal size DN</div><div style="position:absolute;left:0;top:6px;width:68px;font-size:5.0px;line-height:6px;color:#15173f;text-align:center;white-space:nowrap;font-weight:400;transform:scaleX(0.95);transform-origin:center center;-webkit-text-stroke:0.22px #15173f;">and the volume are</div><div style="position:absolute;left:0;top:11px;width:68px;font-size:5.0px;line-height:6px;color:#15173f;text-align:center;white-space:nowrap;font-weight:400;transform:scaleX(0.95);transform-origin:center center;-webkit-text-stroke:0.22px #15173f;">equally appropriate</div></div>
<div class="a" style="left:415px;top:316.3px;width:68px;height:26px;background:#ededed;"><div style="position:absolute;left:0;top:1.6999999999999886px;width:68px;font-size:5.0px;line-height:6px;color:#15173f;text-align:center;white-space:nowrap;font-weight:400;transform:scaleX(0.95);transform-origin:center center;-webkit-text-stroke:0.22px #15173f;">Compare the output category,</div><div style="position:absolute;left:0;top:6.699999999999989px;width:68px;font-size:5.0px;line-height:6px;color:#15173f;text-align:center;white-space:nowrap;font-weight:400;transform:scaleX(0.95);transform-origin:center center;-webkit-text-stroke:0.22px #15173f;">starting from X, with that</div><div style="position:absolute;left:0;top:11.699999999999989px;width:68px;font-size:5.0px;line-height:6px;color:#15173f;text-align:center;white-space:nowrap;font-weight:400;transform:scaleX(0.95);transform-origin:center center;-webkit-text-stroke:0.22px #15173f;">from Y, and take the highest</div><div style="position:absolute;left:0;top:17.69999999999999px;width:68px;font-size:5.0px;line-height:6px;color:#15173f;text-align:center;white-space:nowrap;font-weight:400;transform:scaleX(0.95);transform-origin:center center;-webkit-text-stroke:0.22px #15173f;">category of these two</div></div>
<div class="a" style="left:439.7px;top:352.0px;width:19.6px;height:19.6px;border-radius:50%;background:#10123c;display:flex;justify-content:center;align-items:center;"><div style="font-size:6px;line-height:5.0px;color:#fff;text-align:center;font-weight:700;white-space:nowrap;transform:scaleX(0.76);position:relative;top:0.9px;-webkit-text-stroke:0.12px #fff;">Go to<br>point<br>Z</div></div>
<div class="a" style="left:527px;top:222px;width:79px;height:28.5px;background:#ededed;"><div style="position:absolute;left:0;top:4px;width:79px;font-size:5.0px;line-height:6px;color:#15173f;text-align:center;white-space:nowrap;font-weight:400;transform:scaleX(0.95);transform-origin:center center;-webkit-text-stroke:0.22px #15173f;">Assemblies referred to in Article 4</div><div style="position:absolute;left:0;top:9px;width:79px;font-size:5.0px;line-height:6px;color:#15173f;text-align:center;white-space:nowrap;font-weight:400;transform:scaleX(0.95);transform-origin:center center;-webkit-text-stroke:0.22px #15173f;">(2) shall be subjected to a global</div><div style="position:absolute;left:0;top:14px;width:79px;font-size:5.0px;line-height:6px;color:#15173f;text-align:center;white-space:nowrap;font-weight:400;transform:scaleX(0.95);transform-origin:center center;-webkit-text-stroke:0.22px #15173f;">conformity assessment</div><div style="position:absolute;left:0;top:19px;width:79px;font-size:5.0px;line-height:6px;color:#15173f;text-align:center;white-space:nowrap;font-weight:400;transform:scaleX(0.95);transform-origin:center center;-webkit-text-stroke:0.22px #15173f;">procedure comprising:</div></div>
<div class="a" style="left:527px;top:256px;width:79px;height:63.5px;background:#ededed;"><div style="position:absolute;left:0;top:4px;width:79px;font-size:5.0px;line-height:6px;color:#15173f;text-align:center;white-space:nowrap;font-weight:400;transform:scaleX(0.95);transform-origin:center center;-webkit-text-stroke:0.22px #15173f;">Assessment of each item of</div><div style="position:absolute;left:0;top:9px;width:79px;font-size:5.0px;line-height:6px;color:#15173f;text-align:center;white-space:nowrap;font-weight:400;transform:scaleX(0.95);transform-origin:center center;-webkit-text-stroke:0.22px #15173f;">pressure equipment making</div><div style="position:absolute;left:0;top:15px;width:79px;font-size:5.0px;line-height:6px;color:#15173f;text-align:center;white-space:nowrap;font-weight:400;transform:scaleX(0.95);transform-origin:center center;-webkit-text-stroke:0.22px #15173f;">up the assembly and referred</div><div style="position:absolute;left:0;top:21px;width:79px;font-size:5.0px;line-height:6px;color:#15173f;text-align:center;white-space:nowrap;font-weight:400;transform:scaleX(0.95);transform-origin:center center;-webkit-text-stroke:0.22px #15173f;">to in Article 4 (1) which has not</div><div style="position:absolute;left:0;top:26px;width:79px;font-size:5.0px;line-height:6px;color:#15173f;text-align:center;white-space:nowrap;font-weight:400;transform:scaleX(0.95);transform-origin:center center;-webkit-text-stroke:0.22px #15173f;">been previously subjected to a</div><div style="position:absolute;left:0;top:32px;width:79px;font-size:5.0px;line-height:6px;color:#15173f;text-align:center;white-space:nowrap;font-weight:400;transform:scaleX(0.95);transform-origin:center center;-webkit-text-stroke:0.22px #15173f;">conformity assessment procedure</div><div style="position:absolute;left:0;top:37px;width:79px;font-size:5.0px;line-height:6px;color:#15173f;text-align:center;white-space:nowrap;font-weight:400;transform:scaleX(0.95);transform-origin:center center;-webkit-text-stroke:0.22px #15173f;">and to a separate CE marking;</div><div style="position:absolute;left:0;top:43px;width:79px;font-size:5.0px;line-height:6px;color:#15173f;text-align:center;white-space:nowrap;font-weight:400;transform:scaleX(0.95);transform-origin:center center;-webkit-text-stroke:0.22px #15173f;">the assessment procedure shall</div><div style="position:absolute;left:0;top:48px;width:79px;font-size:5.0px;line-height:6px;color:#15173f;text-align:center;white-space:nowrap;font-weight:400;transform:scaleX(0.95);transform-origin:center center;-webkit-text-stroke:0.22px #15173f;">be determined by the category of</div><div style="position:absolute;left:0;top:54px;width:79px;font-size:5.0px;line-height:6px;color:#15173f;text-align:center;white-space:nowrap;font-weight:400;transform:scaleX(0.95);transform-origin:center center;-webkit-text-stroke:0.22px #15173f;">each item of equipment;</div></div>
<div class="a" style="left:527px;top:325px;width:79px;height:57.6px;background:#ededed;"><div style="position:absolute;left:0;top:4px;width:79px;font-size:5.0px;line-height:6px;color:#15173f;text-align:center;white-space:nowrap;font-weight:400;transform:scaleX(0.95);transform-origin:center center;-webkit-text-stroke:0.22px #15173f;">Assessment of the integration</div><div style="position:absolute;left:0;top:9px;width:79px;font-size:5.0px;line-height:6px;color:#15173f;text-align:center;white-space:nowrap;font-weight:400;transform:scaleX(0.95);transform-origin:center center;-webkit-text-stroke:0.22px #15173f;">of the various components</div><div style="position:absolute;left:0;top:15px;width:79px;font-size:5.0px;line-height:6px;color:#15173f;text-align:center;white-space:nowrap;font-weight:400;transform:scaleX(0.95);transform-origin:center center;-webkit-text-stroke:0.22px #15173f;">of the assembly as referred to in</div><div style="position:absolute;left:0;top:20px;width:79px;font-size:5.0px;line-height:6px;color:#15173f;text-align:center;white-space:nowrap;font-weight:400;transform:scaleX(0.95);transform-origin:center center;-webkit-text-stroke:0.22px #15173f;">sections 2.3, 2.8 and 2.9 of</div><div style="position:absolute;left:0;top:26px;width:79px;font-size:5.0px;line-height:6px;color:#15173f;text-align:center;white-space:nowrap;font-weight:400;transform:scaleX(0.95);transform-origin:center center;-webkit-text-stroke:0.22px #15173f;">Annex I, which shall be determined</div><div style="position:absolute;left:0;top:31px;width:79px;font-size:5.0px;line-height:6px;color:#15173f;text-align:center;white-space:nowrap;font-weight:400;transform:scaleX(0.95);transform-origin:center center;-webkit-text-stroke:0.22px #15173f;">by the highest category applicable</div><div style="position:absolute;left:0;top:37px;width:79px;font-size:5.0px;line-height:6px;color:#15173f;text-align:center;white-space:nowrap;font-weight:400;transform:scaleX(0.95);transform-origin:center center;-webkit-text-stroke:0.22px #15173f;">to the equipment concerned other</div><div style="position:absolute;left:0;top:43px;width:79px;font-size:5.0px;line-height:6px;color:#15173f;text-align:center;white-space:nowrap;font-weight:400;transform:scaleX(0.95);transform-origin:center center;-webkit-text-stroke:0.22px #15173f;">than that applicable to any safety</div><div style="position:absolute;left:0;top:48px;width:79px;font-size:5.0px;line-height:6px;color:#15173f;text-align:center;white-space:nowrap;font-weight:400;transform:scaleX(0.95);transform-origin:center center;-webkit-text-stroke:0.22px #15173f;">accessories;</div></div>
<div class="a" style="left:527px;top:388px;width:79px;height:54px;background:#ededed;"><div style="position:absolute;left:0;top:5px;width:79px;font-size:5.0px;line-height:6px;color:#15173f;text-align:center;white-space:nowrap;font-weight:400;transform:scaleX(0.95);transform-origin:center center;-webkit-text-stroke:0.22px #15173f;">Assessment of the protection of</div><div style="position:absolute;left:0;top:10px;width:79px;font-size:5.0px;line-height:6px;color:#15173f;text-align:center;white-space:nowrap;font-weight:400;transform:scaleX(0.95);transform-origin:center center;-webkit-text-stroke:0.22px #15173f;">an assembly against exceeding</div><div style="position:absolute;left:0;top:16px;width:79px;font-size:5.0px;line-height:6px;color:#15173f;text-align:center;white-space:nowrap;font-weight:400;transform:scaleX(0.95);transform-origin:center center;-webkit-text-stroke:0.22px #15173f;">the permissible operating limits</div><div style="position:absolute;left:0;top:21px;width:79px;font-size:5.0px;line-height:6px;color:#15173f;text-align:center;white-space:nowrap;font-weight:400;transform:scaleX(0.95);transform-origin:center center;-webkit-text-stroke:0.22px #15173f;">as referred to in sections 2.10 and</div><div style="position:absolute;left:0;top:27px;width:79px;font-size:5.0px;line-height:6px;color:#15173f;text-align:center;white-space:nowrap;font-weight:400;transform:scaleX(0.95);transform-origin:center center;-webkit-text-stroke:0.22px #15173f;">3.2.3 of Annex I, shall be conducted</div><div style="position:absolute;left:0;top:32px;width:79px;font-size:5.0px;line-height:6px;color:#15173f;text-align:center;white-space:nowrap;font-weight:400;transform:scaleX(0.95);transform-origin:center center;-webkit-text-stroke:0.22px #15173f;">in the light of the highest category</div><div style="position:absolute;left:0;top:38px;width:79px;font-size:5.0px;line-height:6px;color:#15173f;text-align:center;white-space:nowrap;font-weight:400;transform:scaleX(0.95);transform-origin:center center;-webkit-text-stroke:0.22px #15173f;">applicable to the items of</div><div style="position:absolute;left:0;top:44px;width:79px;font-size:5.0px;line-height:6px;color:#15173f;text-align:center;white-space:nowrap;font-weight:400;transform:scaleX(0.95);transform-origin:center center;-webkit-text-stroke:0.22px #15173f;">equipment to be protected.</div></div>
<div class="a" style="left:557.7px;top:452.0px;width:19.6px;height:19.6px;border-radius:50%;background:#10123c;display:flex;justify-content:center;align-items:center;"><div style="font-size:6px;line-height:5.0px;color:#fff;text-align:center;font-weight:700;white-space:nowrap;transform:scaleX(0.76);position:relative;top:0.9px;-webkit-text-stroke:0.12px #fff;">Go to<br>point<br>Z</div></div>
<div class="a" style="left:36px;top:350px;width:49px;height:28.5px;background:#ebebeb;"></div>
<div class="a" style="left:36px;top:380.5px;width:49px;height:28.5px;background:#ebebeb;"></div>
<div class="a" style="left:88px;top:350px;width:49px;height:59px;background:#ebebeb;"></div>
<div class="a" style="left:140.5px;top:350px;width:177.8px;height:59px;background:#ebebeb;"></div>
<div class="a" style="left:320.3px;top:350px;width:89.6px;height:59px;background:#ebebeb;"></div>
<div class="a" style="left:39px;top:352.5px;font-size:6.3px;line-height:7px;color:#15173f;white-space:nowrap;font-weight:700;transform:scaleX(0.82);transform-origin:left top;-webkit-text-stroke:0.15px #15173f;">SEP</div>
<div class="a" style="left:39px;top:381.3px;font-size:6.3px;line-height:7px;color:#15173f;white-space:nowrap;font-weight:700;transform:scaleX(0.82);transform-origin:left top;-webkit-text-stroke:0.15px #15173f;">CATEGOR<span style="font-size:5.5px">Y I</span></div>
<div class="a" style="left:91px;top:353px;font-size:6.3px;line-height:7px;color:#15173f;white-space:nowrap;font-weight:700;transform:scaleX(0.82);transform-origin:left top;-webkit-text-stroke:0.15px #15173f;">CATEGOR<span style="font-size:5.5px">Y II</span></div>
<div class="a" style="left:144.5px;top:353px;font-size:6.3px;line-height:7px;color:#15173f;white-space:nowrap;font-weight:700;transform:scaleX(0.82);transform-origin:left top;-webkit-text-stroke:0.15px #15173f;">CATEGOR<span style="font-size:5.5px">Y III</span></div>
<div class="a" style="left:323.5px;top:353px;font-size:6.3px;line-height:7px;color:#15173f;white-space:nowrap;font-weight:700;transform:scaleX(0.82);transform-origin:left top;-webkit-text-stroke:0.15px #15173f;">CATEGOR<span style="font-size:5.5px">Y IV</span></div>
<div class="a" style="left:38px;top:361px;width:37px;height:14.7px;background:#c0209c;display:flex;align-items:center;padding-left:2.3px;box-sizing:border-box"><div style="font-size:4.9px;line-height:4.2px;font-weight:700;color:#fff;white-space:nowrap;transform:scaleX(.85);transform-origin:left center">SOUND<br>ENGINEERING<br>PRACTICE</div></div>
<div class="a" style="left:38px;top:393px;width:37px;height:14.7px;background:#11efb1;display:flex;align-items:center;padding-left:2.3px;box-sizing:border-box"><div style="font-size:5.2px;line-height:4.2px;font-weight:700;color:#15173f;white-space:nowrap;transform:scaleX(.85);transform-origin:left center">MODULE A</div></div>
<div class="a" style="left:90px;top:361px;width:37px;height:14.7px;background:#ff5a2c;display:flex;align-items:center;padding-left:2.3px;box-sizing:border-box"><div style="font-size:5.2px;line-height:4.2px;font-weight:700;color:#15173f;white-space:nowrap;transform:scaleX(.85);transform-origin:left center">MODULE A2</div></div>
<div class="a" style="left:90px;top:377px;width:37px;height:14.7px;background:#80bcbc;display:flex;align-items:center;padding-left:2.3px;box-sizing:border-box"><div style="font-size:5.2px;line-height:4.2px;font-weight:700;color:#15173f;white-space:nowrap;transform:scaleX(.85);transform-origin:left center">MODULE D1</div></div>
<div class="a" style="left:90px;top:393px;width:37px;height:14.7px;background:#80bdf5;display:flex;align-items:center;padding-left:2.3px;box-sizing:border-box"><div style="font-size:5.2px;line-height:4.2px;font-weight:700;color:#fff;white-space:nowrap;transform:scaleX(.85);transform-origin:left center">MODULE E1</div></div>
<div class="a" style="left:144px;top:361px;width:37px;height:14.7px;background:#f3edc2;display:flex;align-items:center;padding-left:2.3px;box-sizing:border-box"><div style="font-size:5.2px;line-height:4.6px;font-weight:700;color:#15173f;white-space:nowrap;transform:scaleX(.85);transform-origin:left center">MODULE B<br><span style="font-size:3.3px">(DESIGN TYPE)</span></div></div>
<div class="a" style="left:191px;top:361px;width:37px;height:14.7px;background:#10123c;display:flex;align-items:center;padding-left:2.3px;box-sizing:border-box"><div style="font-size:5.2px;line-height:4.2px;font-weight:700;color:#fff;white-space:nowrap;transform:scaleX(.85);transform-origin:left center">MODULE D</div></div>
<div class="a" style="left:231px;top:361px;width:37px;height:14.7px;background:#8b8c9c;display:flex;align-items:center;padding-left:2.3px;box-sizing:border-box"><div style="font-size:5.2px;line-height:4.6px;font-weight:700;color:#15173f;white-space:nowrap;transform:scaleX(.85);transform-origin:left center">MODULE B<br><span style="font-size:3.3px">(PRODUCTION TYPE)</span></div></div>
<div class="a" style="left:276px;top:361px;width:37px;height:14.7px;background:#ffe800;display:flex;align-items:center;padding-left:2.3px;box-sizing:border-box"><div style="font-size:5.2px;line-height:4.2px;font-weight:700;color:#15173f;white-space:nowrap;transform:scaleX(.85);transform-origin:left center">MODULE C2</div></div>
<div class="a" style="left:144px;top:377px;width:37px;height:14.7px;background:#f3edc2;display:flex;align-items:center;padding-left:2.3px;box-sizing:border-box"><div style="font-size:5.2px;line-height:4.6px;font-weight:700;color:#15173f;white-space:nowrap;transform:scaleX(.85);transform-origin:left center">MODULE B<br><span style="font-size:3.3px">(DESIGN TYPE)</span></div></div>
<div class="a" style="left:191px;top:377px;width:37px;height:14.7px;background:#f4a68c;display:flex;align-items:center;padding-left:2.3px;box-sizing:border-box"><div style="font-size:5.2px;line-height:4.2px;font-weight:700;color:#fff;white-space:nowrap;transform:scaleX(.85);transform-origin:left center">MODULE F</div></div>
<div class="a" style="left:231px;top:377px;width:37px;height:14.7px;background:#8b8c9c;display:flex;align-items:center;padding-left:2.3px;box-sizing:border-box"><div style="font-size:5.2px;line-height:4.6px;font-weight:700;color:#15173f;white-space:nowrap;transform:scaleX(.85);transform-origin:left center">MODULE B<br><span style="font-size:3.3px">(PRODUCTION TYPE)</span></div></div>
<div class="a" style="left:276px;top:377px;width:37px;height:14.7px;background:#da8ccf;display:flex;align-items:center;padding-left:2.3px;box-sizing:border-box"><div style="font-size:5.2px;line-height:4.2px;font-weight:700;color:#fff;white-space:nowrap;transform:scaleX(.85);transform-origin:left center">MODULE E</div></div>
<div class="a" style="left:144px;top:393px;width:37px;height:14.7px;background:#8df5d8;display:flex;align-items:center;padding-left:2.3px;box-sizing:border-box"><div style="font-size:5.2px;line-height:4.2px;font-weight:700;color:#15173f;white-space:nowrap;transform:scaleX(.85);transform-origin:left center">MODULE H</div></div>
<div class="a" style="left:322.5px;top:361px;width:37px;height:14.7px;background:#8b8c9c;display:flex;align-items:center;padding-left:2.3px;box-sizing:border-box"><div style="font-size:5.2px;line-height:4.6px;font-weight:700;color:#15173f;white-space:nowrap;transform:scaleX(.85);transform-origin:left center">MODULE B<br><span style="font-size:3.3px">(PRODUCTION TYPE)</span></div></div>
<div class="a" style="left:369px;top:361px;width:37px;height:14.7px;background:#10123c;display:flex;align-items:center;padding-left:2.3px;box-sizing:border-box"><div style="font-size:5.2px;line-height:4.2px;font-weight:700;color:#fff;white-space:nowrap;transform:scaleX(.85);transform-origin:left center">MODULE D</div></div>
<div class="a" style="left:322.5px;top:377px;width:37px;height:14.7px;background:#8b8c9c;display:flex;align-items:center;padding-left:2.3px;box-sizing:border-box"><div style="font-size:5.2px;line-height:4.6px;font-weight:700;color:#15173f;white-space:nowrap;transform:scaleX(.85);transform-origin:left center">MODULE B<br><span style="font-size:3.3px">(PRODUCTION TYPE)</span></div></div>
<div class="a" style="left:369px;top:377px;width:37px;height:14.7px;background:#f4a68c;display:flex;align-items:center;padding-left:2.3px;box-sizing:border-box"><div style="font-size:5.2px;line-height:4.2px;font-weight:700;color:#fff;white-space:nowrap;transform:scaleX(.85);transform-origin:left center">MODULE F</div></div>
<div class="a" style="left:322.5px;top:393px;width:37px;height:14.7px;background:#c9c9d1;display:flex;align-items:center;padding-left:2.3px;box-sizing:border-box"><div style="font-size:5.2px;line-height:4.2px;font-weight:700;color:#15173f;white-space:nowrap;transform:scaleX(.85);transform-origin:left center">MODULE G</div></div>
<div class="a" style="left:369px;top:393px;width:37px;height:14.7px;background:#f8d6cc;display:flex;align-items:center;padding-left:2.3px;box-sizing:border-box"><div style="font-size:5.2px;line-height:4.2px;font-weight:700;color:#15173f;white-space:nowrap;transform:scaleX(.85);transform-origin:left center">MODULE H1</div></div>
<div class="a" style="left:414.3px;top:387.3px;font-size:3.8px;line-height:5.0px;color:#0b0c24;white-space:nowrap;font-weight:700;">*</div>
<div class="a" style="left:417.4px;top:386.4px;font-size:3.8px;line-height:4.85px;color:#0b0c24;white-space:nowrap;font-weight:700;transform:scaleX(0.8798);transform-origin:left top;-webkit-text-stroke:0.12px #0b0c24;">Conformity assessment tables. To determine which<br>applies to your asset, use the Lloyd's Register PED<br>category selection mobile or desktop app, found at<br>www.lrqa.com. When reviewing the tables, please<br>note the exceptions.</div>
<div class="a" style="left:36px;top:420px;width:482px;height:3.6px;background:#11efb1"></div>
<div class="a" style="left:36.6px;top:426.5px;font-size:10.4px;line-height:13px;color:#14163c;white-space:nowrap;font-weight:700;transform:scaleX(0.744);transform-origin:left top;-webkit-text-stroke:0.3px #14163c;">PED</div>
<div class="a" style="left:55.6px;top:426.5px;font-size:10.4px;line-height:13px;color:#14163c;white-space:nowrap;font-weight:700;transform:scaleX(0.8307);transform-origin:left top;-webkit-text-stroke:0.3px #14163c;">modules:</div>
<div class="a" style="left:97.8px;top:426.5px;font-size:10.4px;line-height:13px;color:#14163c;white-space:nowrap;font-weight:700;transform:scaleX(0.9015);transform-origin:left top;-webkit-text-stroke:0.3px #14163c;">Notified</div>
<div class="a" style="left:136.6px;top:426.5px;font-size:10.4px;line-height:13px;color:#14163c;white-space:nowrap;font-weight:700;transform:scaleX(0.7885);transform-origin:left top;-webkit-text-stroke:0.3px #14163c;">Body</div>
<div class="a" style="left:161.0px;top:426.5px;font-size:10.4px;line-height:13px;color:#14163c;white-space:nowrap;font-weight:700;transform:scaleX(0.8437);transform-origin:left top;-webkit-text-stroke:0.3px #14163c;">involvement</div>
<div class="a" style="left:216.0px;top:426.5px;font-size:10.4px;line-height:13px;color:#14163c;white-space:nowrap;font-weight:700;transform:scaleX(0.8224);transform-origin:left top;-webkit-text-stroke:0.3px #14163c;">summarised</div>
<div class="a" style="left:36px;top:442.5px;font-size:5.0px;line-height:6px;color:#15173f;white-space:nowrap;font-weight:400;transform:scaleX(0.9441);transform-origin:left top;-webkit-text-stroke:0.22px #15173f;">Manufacturers may select from a range of conformity assessment modules to show the Essential Safety Requirements are met, which include:</div>
<div class="a" style="left:36px;top:453px;font-size:5.3px;line-height:6.3px;color:#15173f;white-space:nowrap;font-weight:400;transform:scaleX(0.9199);transform-origin:left top;-webkit-text-stroke:0.22px #15173f;">- Manufacturer's self-certification<br>- Third-party type-examination or design examination<br>- Third-party inspection<br>- Quality management system certification</div>
<div class="a" style="left:200.5px;top:453px;font-size:5.3px;line-height:6.3px;color:#15173f;white-space:nowrap;font-weight:400;transform:scaleX(0.8978);transform-origin:left top;white-space:pre;-webkit-text-stroke:0.22px #15173f;">Please note: The following are summaries of the Notified Body's
involvement and are not exhaustive. To determine which applies to
your asset, use the Lloyd's Register PED category selection desktop
tool or our mobile app. Visit <b>www.lrqa.org</b> for more information.</div>
<div class="a" style="left:364px;top:441.2px;font-size:4.9px;line-height:6px;color:#15173f;white-space:nowrap;font-weight:700;letter-spacing:0.2px;transform:scaleX(0.8746);transform-origin:left top;-webkit-text-stroke:0.22px #15173f;">KEY TERMS</div>
<div class="a" style="left:364px;top:453px;font-size:5.3px;line-height:6.3px;color:#15173f;white-space:nowrap;font-weight:700;transform:scaleX(0.86);transform-origin:left top;-webkit-text-stroke:0.22px #15173f;">CoC<br>DoC<br>ESRs<br>NoBo</div>
<div class="a" style="left:378px;top:453px;font-size:5.3px;line-height:6.3px;color:#15173f;white-space:nowrap;font-weight:400;transform:scaleX(0.8909);transform-origin:left top;-webkit-text-stroke:0.22px #15173f;">– Certificate of Conformity<br>– Declaration of Conformity<br>– Essential Safety Requirements<br>– Notified Body</div>
<div class="a" style="left:37.0px;top:489px;width:79.2px;height:105.2px;background:#11efb1"></div>
<div class="a" style="left:40.2px;top:491.98px;font-size:7.3px;line-height:8.76px;color:#0c0d22;white-space:pre;font-weight:700;transform:scaleX(0.7);transform-origin:left top;letter-spacing:0.2px;-webkit-text-stroke:0.25px #0c0d22;">MODULE A</div>
<div class="a" style="left:40.2px;top:500.91px;font-size:4.4px;line-height:5.28px;color:#0c0d22;white-space:pre;font-weight:700;transform:scaleX(0.82);transform-origin:left top;-webkit-text-stroke:0.15px #0c0d22;">Internal Production Control</div>
<div class="a" style="left:40.2px;top:511.29px;font-size:4.8px;line-height:5.76px;color:#0c0d22;white-space:pre;font-weight:700;transform:scaleX(0.665);transform-origin:left top;-webkit-text-stroke:0.05px #0c0d22;">NOBO-S RESPONSIBILITY:</div>
<div class="a" style="left:40.2px;top:516.17px;font-size:5.0px;line-height:6.0px;color:#0c0d22;white-space:pre;font-weight:400;transform:scaleX(0.67);transform-origin:left top;-webkit-text-stroke:0.2px #0c0d22;">- None</div>
<div class="a" style="left:118.75px;top:489px;width:79.2px;height:105.2px;background:#ff5a2c"></div>
<div class="a" style="left:121.95px;top:491.98px;font-size:7.3px;line-height:8.76px;color:#fff;white-space:pre;font-weight:700;transform:scaleX(0.7);transform-origin:left top;letter-spacing:0.2px;-webkit-text-stroke:0.25px #fff;">MODULE A2</div>
<div class="a" style="left:121.95px;top:501.21px;font-size:4.4px;line-height:5.28px;color:#fff;white-space:pre;font-weight:700;transform:scaleX(0.82);transform-origin:left top;-webkit-text-stroke:0.15px #fff;">Internal Production Control plus random</div>
<div class="a" style="left:121.95px;top:506.11px;font-size:4.4px;line-height:5.28px;color:#fff;white-space:pre;font-weight:700;transform:scaleX(0.82);transform-origin:left top;-webkit-text-stroke:0.15px #fff;">pressure equipment checks</div>
<div class="a" style="left:121.95px;top:515.29px;font-size:4.8px;line-height:5.76px;color:#fff;white-space:pre;font-weight:700;transform:scaleX(0.665);transform-origin:left top;-webkit-text-stroke:0.05px #fff;">NOBO-S RESPONSIBILITY:</div>
<div class="a" style="left:121.95px;top:520.47px;font-size:5.0px;line-height:6.0px;color:#fff;white-space:pre;font-weight:400;transform:scaleX(0.67);transform-origin:left top;-webkit-text-stroke:0.2px #fff;">• Monitor through unexpected visits</div>
<div class="a" style="left:121.95px;top:526.88px;font-size:5.0px;line-height:6.0px;color:#fff;white-space:pre;font-weight:400;transform:scaleX(0.67);transform-origin:left top;-webkit-text-stroke:0.2px #fff;">• Ensure manufacturer performs final</div>
<div class="a" style="left:123.85000000000001px;top:531.57px;font-size:5.0px;line-height:6.0px;color:#fff;white-space:pre;font-weight:400;transform:scaleX(0.67);transform-origin:left top;-webkit-text-stroke:0.2px #fff;">assessment according to Sec. 3.2 of ESRs</div>
<div class="a" style="left:121.95px;top:537.47px;font-size:5.0px;line-height:6.0px;color:#fff;white-space:pre;font-weight:400;transform:scaleX(0.67);transform-origin:left top;-webkit-text-stroke:0.2px #fff;">• Take samples of pressure equipment to</div>
<div class="a" style="left:123.85000000000001px;top:542.47px;font-size:5.0px;line-height:6.0px;color:#fff;white-space:pre;font-weight:400;transform:scaleX(0.67);transform-origin:left top;-webkit-text-stroke:0.2px #fff;">conduct checks</div>
<div class="a" style="left:121.95px;top:548.57px;font-size:5.0px;line-height:6.0px;color:#fff;white-space:pre;font-weight:400;transform:scaleX(0.67);transform-origin:left top;-webkit-text-stroke:0.2px #fff;">• Assess number to sample and whether it</div>
<div class="a" style="left:123.85000000000001px;top:553.67px;font-size:5.0px;line-height:6.0px;color:#fff;white-space:pre;font-weight:400;transform:scaleX(0.67);transform-origin:left top;-webkit-text-stroke:0.2px #fff;">is necessary to perform all or part of final</div>
<div class="a" style="left:123.85000000000001px;top:558.57px;font-size:5.0px;line-height:6.0px;color:#fff;white-space:pre;font-weight:400;transform:scaleX(0.67);transform-origin:left top;-webkit-text-stroke:0.2px #fff;">assessment on the samples</div>
<div class="a" style="left:200.5px;top:489px;width:79.2px;height:105.2px;background:#7b7c8e"></div>
<div class="a" style="left:203.7px;top:491.98px;font-size:7.3px;line-height:8.76px;color:#fff;white-space:pre;font-weight:700;transform:scaleX(0.7);transform-origin:left top;letter-spacing:0.2px;-webkit-text-stroke:0.25px #fff;">MODULE B</div>
<div class="a" style="left:203.7px;top:499.14px;font-size:5.6px;line-height:6.72px;color:#fff;white-space:pre;font-weight:700;transform:scaleX(0.84);transform-origin:left top;letter-spacing:0.15px;">(PRODUCTION TYPE)</div>
<div class="a" style="left:203.7px;top:506.21px;font-size:4.4px;line-height:5.28px;color:#fff;white-space:pre;font-weight:700;transform:scaleX(0.82);transform-origin:left top;-webkit-text-stroke:0.15px #fff;">EU type-examination – production type</div>
<div class="a" style="left:203.7px;top:514.29px;font-size:4.8px;line-height:5.76px;color:#fff;white-space:pre;font-weight:700;transform:scaleX(0.665);transform-origin:left top;-webkit-text-stroke:0.05px #fff;">NOBO-S RESPONSIBILITY:</div>
<div class="a" style="left:203.7px;top:520.47px;font-size:5.0px;line-height:6.0px;color:#fff;white-space:pre;font-weight:400;transform:scaleX(0.67);transform-origin:left top;-webkit-text-stroke:0.2px #fff;">- Examine technical documentation</div>
<div class="a" style="left:203.7px;top:526.17px;font-size:5.0px;line-height:6.0px;color:#fff;white-space:pre;font-weight:400;transform:scaleX(0.67);transform-origin:left top;-webkit-text-stroke:0.2px #fff;">- Assess materials and check certificates</div>
<div class="a" style="left:203.7px;top:531.47px;font-size:5.0px;line-height:6.0px;color:#fff;white-space:pre;font-weight:400;transform:scaleX(0.67);transform-origin:left top;-webkit-text-stroke:0.2px #fff;">- Approve procedures for permanent joining or</div>
<div class="a" style="left:205.6px;top:536.47px;font-size:5.0px;line-height:6.0px;color:#fff;white-space:pre;font-weight:400;transform:scaleX(0.67);transform-origin:left top;-webkit-text-stroke:0.2px #fff;">check they have been previously approved</div>
<div class="a" style="left:203.7px;top:542.57px;font-size:5.0px;line-height:6.0px;color:#fff;white-space:pre;font-weight:400;transform:scaleX(0.67);transform-origin:left top;-webkit-text-stroke:0.2px #fff;">- Verify the joining and NDE personnel are</div>
<div class="a" style="left:205.6px;top:548.17px;font-size:5.0px;line-height:6.0px;color:#fff;white-space:pre;font-weight:400;transform:scaleX(0.67);transform-origin:left top;-webkit-text-stroke:0.2px #fff;">qualified or approved</div>
<div class="a" style="left:203.7px;top:553.47px;font-size:5.0px;line-height:6.0px;color:#fff;white-space:pre;font-weight:400;transform:scaleX(0.67);transform-origin:left top;-webkit-text-stroke:0.2px #fff;">- Carry out appropriate examinations and tests</div>
<div class="a" style="left:205.6px;top:558.17px;font-size:5.0px;line-height:6.0px;color:#fff;white-space:pre;font-weight:400;transform:scaleX(0.67);transform-origin:left top;-webkit-text-stroke:0.2px #fff;">to check if the chosen standards are applied</div>
<div class="a" style="left:205.6px;top:563.47px;font-size:5.0px;line-height:6.0px;color:#fff;white-space:pre;font-weight:400;transform:scaleX(0.67);transform-origin:left top;-webkit-text-stroke:0.2px #fff;">correctly</div>
<div class="a" style="left:203.7px;top:569.17px;font-size:5.0px;line-height:6.0px;color:#fff;white-space:pre;font-weight:400;transform:scaleX(0.67);transform-origin:left top;-webkit-text-stroke:0.2px #fff;">- Draw up evaluation report</div>
<div class="a" style="left:203.7px;top:575.47px;font-size:5.0px;line-height:6.0px;color:#fff;white-space:pre;font-weight:400;transform:scaleX(0.67);transform-origin:left top;-webkit-text-stroke:0.2px #fff;">- Issue EU type-examination certificate -</div>
<div class="a" style="left:205.6px;top:580.17px;font-size:5.0px;line-height:6.0px;color:#fff;white-space:pre;font-weight:400;transform:scaleX(0.67);transform-origin:left top;-webkit-text-stroke:0.2px #fff;">production type</div>
<div class="a" style="left:203.7px;top:586.57px;font-size:5.0px;line-height:6.0px;color:#fff;white-space:pre;font-weight:400;transform:scaleX(0.67);transform-origin:left top;-webkit-text-stroke:0.2px #fff;">- Notify NoBo approving authority and other NoBos</div>
<div class="a" style="left:282.25px;top:489px;width:79.2px;height:105.2px;background:#fffbcf"></div>
<div class="a" style="left:285.45px;top:491.98px;font-size:7.3px;line-height:8.76px;color:#0c0d22;white-space:pre;font-weight:700;transform:scaleX(0.7);transform-origin:left top;letter-spacing:0.2px;-webkit-text-stroke:0.25px #0c0d22;">MODULE B</div>
<div class="a" style="left:285.45px;top:499.14px;font-size:5.6px;line-height:6.72px;color:#0c0d22;white-space:pre;font-weight:700;transform:scaleX(0.84);transform-origin:left top;letter-spacing:0.15px;">(DESIGN TYPE)</div>
<div class="a" style="left:285.45px;top:506.21px;font-size:4.4px;line-height:5.28px;color:#0c0d22;white-space:pre;font-weight:700;transform:scaleX(0.82);transform-origin:left top;-webkit-text-stroke:0.15px #0c0d22;">EU type-examination – design type</div>
<div class="a" style="left:285.45px;top:515.29px;font-size:4.8px;line-height:5.76px;color:#0c0d22;white-space:pre;font-weight:700;transform:scaleX(0.665);transform-origin:left top;-webkit-text-stroke:0.05px #0c0d22;">NOBO-S RESPONSIBILITY:</div>
<div class="a" style="left:285.45px;top:520.47px;font-size:5.0px;line-height:6.0px;color:#0c0d22;white-space:pre;font-weight:400;transform:scaleX(0.67);transform-origin:left top;-webkit-text-stroke:0.2px #0c0d22;">- Examine technical documentation</div>
<div class="a" style="left:285.45px;top:525.77px;font-size:5.0px;line-height:6.0px;color:#0c0d22;white-space:pre;font-weight:400;transform:scaleX(0.67);transform-origin:left top;-webkit-text-stroke:0.2px #0c0d22;">- Assess materials</div>
<div class="a" style="left:285.45px;top:531.47px;font-size:5.0px;line-height:6.0px;color:#0c0d22;white-space:pre;font-weight:400;transform:scaleX(0.67);transform-origin:left top;-webkit-text-stroke:0.2px #0c0d22;">- Approve procedures for permanent joining</div>
<div class="a" style="left:287.34999999999997px;top:535.77px;font-size:5.0px;line-height:6.0px;color:#0c0d22;white-space:pre;font-weight:400;transform:scaleX(0.67);transform-origin:left top;-webkit-text-stroke:0.2px #0c0d22;">or check they have been previously</div>
<div class="a" style="left:287.34999999999997px;top:540.47px;font-size:5.0px;line-height:6.0px;color:#0c0d22;white-space:pre;font-weight:400;transform:scaleX(0.67);transform-origin:left top;-webkit-text-stroke:0.2px #0c0d22;">approved</div>
<div class="a" style="left:285.45px;top:545.77px;font-size:5.0px;line-height:6.0px;color:#0c0d22;white-space:pre;font-weight:400;transform:scaleX(0.67);transform-origin:left top;-webkit-text-stroke:0.2px #0c0d22;">- Draw up evaluation report</div>
<div class="a" style="left:285.45px;top:551.47px;font-size:5.0px;line-height:6.0px;color:#0c0d22;white-space:pre;font-weight:400;transform:scaleX(0.67);transform-origin:left top;-webkit-text-stroke:0.2px #0c0d22;">- Issue EU type-examination certificate -</div>
<div class="a" style="left:287.34999999999997px;top:555.47px;font-size:5.0px;line-height:6.0px;color:#0c0d22;white-space:pre;font-weight:400;transform:scaleX(0.67);transform-origin:left top;-webkit-text-stroke:0.2px #0c0d22;">design type</div>
<div class="a" style="left:285.45px;top:560.88px;font-size:5.0px;line-height:6.0px;color:#0c0d22;white-space:pre;font-weight:400;transform:scaleX(0.67);transform-origin:left top;-webkit-text-stroke:0.2px #0c0d22;">- Notify NoBo approving authority and other</div>
<div class="a" style="left:287.34999999999997px;top:565.17px;font-size:5.0px;line-height:6.0px;color:#0c0d22;white-space:pre;font-weight:400;transform:scaleX(0.67);transform-origin:left top;-webkit-text-stroke:0.2px #0c0d22;">NoBos</div>
<div class="a" style="left:364.0px;top:489px;width:79.2px;height:105.2px;background:#ffe800"></div>
<div class="a" style="left:367.2px;top:491.98px;font-size:7.3px;line-height:8.76px;color:#0c0d22;white-space:pre;font-weight:700;transform:scaleX(0.7);transform-origin:left top;letter-spacing:0.2px;-webkit-text-stroke:0.25px #0c0d22;">MODULE C2</div>
<div class="a" style="left:367.2px;top:501.21px;font-size:4.4px;line-height:5.28px;color:#0c0d22;white-space:pre;font-weight:700;transform:scaleX(0.82);transform-origin:left top;-webkit-text-stroke:0.15px #0c0d22;">Conformity to type based on internal</div>
<div class="a" style="left:367.2px;top:506.11px;font-size:4.4px;line-height:5.28px;color:#0c0d22;white-space:pre;font-weight:700;transform:scaleX(0.82);transform-origin:left top;-webkit-text-stroke:0.15px #0c0d22;">production control plus random pressure</div>
<div class="a" style="left:367.2px;top:511.21px;font-size:4.4px;line-height:5.28px;color:#0c0d22;white-space:pre;font-weight:700;transform:scaleX(0.82);transform-origin:left top;-webkit-text-stroke:0.15px #0c0d22;">equipment checks</div>
<div class="a" style="left:367.2px;top:519.29px;font-size:4.8px;line-height:5.76px;color:#0c0d22;white-space:pre;font-weight:700;transform:scaleX(0.665);transform-origin:left top;-webkit-text-stroke:0.05px #0c0d22;">NOBO-S RESPONSIBILITY:</div>
<div class="a" style="left:367.2px;top:524.17px;font-size:5.0px;line-height:6.0px;color:#0c0d22;white-space:pre;font-weight:400;transform:scaleX(0.67);transform-origin:left top;-webkit-text-stroke:0.2px #0c0d22;">• Carry out checks at random intervals to verify</div>
<div class="a" style="left:369.09999999999997px;top:528.88px;font-size:5.0px;line-height:6.0px;color:#0c0d22;white-space:pre;font-weight:400;transform:scaleX(0.67);transform-origin:left top;-webkit-text-stroke:0.2px #0c0d22;">quality of final assessment and internal checks on</div>
<div class="a" style="left:369.09999999999997px;top:533.47px;font-size:5.0px;line-height:6.0px;color:#0c0d22;white-space:pre;font-weight:400;transform:scaleX(0.67);transform-origin:left top;-webkit-text-stroke:0.2px #0c0d22;">pressure equipment</div>
<div class="a" style="left:367.2px;top:538.47px;font-size:5.0px;line-height:6.0px;color:#0c0d22;white-space:pre;font-weight:400;transform:scaleX(0.67);transform-origin:left top;-webkit-text-stroke:0.2px #0c0d22;">• Ensure manufacturer performs final assessment</div>
<div class="a" style="left:369.09999999999997px;top:542.47px;font-size:5.0px;line-height:6.0px;color:#0c0d22;white-space:pre;font-weight:400;transform:scaleX(0.67);transform-origin:left top;-webkit-text-stroke:0.2px #0c0d22;">according to section 3.2 of ESRs</div>
<div class="a" style="left:367.2px;top:546.88px;font-size:5.0px;line-height:6.0px;color:#0c0d22;white-space:pre;font-weight:400;transform:scaleX(0.67);transform-origin:left top;-webkit-text-stroke:0.2px #0c0d22;">• Take samples of pressure equipment to conduct</div>
<div class="a" style="left:369.09999999999997px;top:551.17px;font-size:5.0px;line-height:6.0px;color:#0c0d22;white-space:pre;font-weight:400;transform:scaleX(0.67);transform-origin:left top;-webkit-text-stroke:0.2px #0c0d22;">checks</div>
<div class="a" style="left:367.2px;top:556.57px;font-size:5.0px;line-height:6.0px;color:#0c0d22;white-space:pre;font-weight:400;transform:scaleX(0.67);transform-origin:left top;-webkit-text-stroke:0.2px #0c0d22;">• Assess number to sample and whether it</div>
<div class="a" style="left:369.09999999999997px;top:561.17px;font-size:5.0px;line-height:6.0px;color:#0c0d22;white-space:pre;font-weight:400;transform:scaleX(0.67);transform-origin:left top;-webkit-text-stroke:0.2px #0c0d22;">is necessary to perform all or part of final</div>
<div class="a" style="left:369.09999999999997px;top:565.17px;font-size:5.0px;line-height:6.0px;color:#0c0d22;white-space:pre;font-weight:400;transform:scaleX(0.67);transform-origin:left top;-webkit-text-stroke:0.2px #0c0d22;">assessment on the samples</div>
<div class="a" style="left:445.75px;top:489px;width:79.2px;height:105.2px;background:#10123c"></div>
<div class="a" style="left:448.95px;top:491.98px;font-size:7.3px;line-height:8.76px;color:#fff;white-space:pre;font-weight:700;transform:scaleX(0.7);transform-origin:left top;letter-spacing:0.2px;-webkit-text-stroke:0.25px #fff;">MODULE D</div>
<div class="a" style="left:448.95px;top:501.21px;font-size:4.4px;line-height:5.28px;color:#fff;white-space:pre;font-weight:700;transform:scaleX(0.82);transform-origin:left top;-webkit-text-stroke:0.15px #fff;">Conformity to type based on Production</div>
<div class="a" style="left:448.95px;top:506.21px;font-size:4.4px;line-height:5.28px;color:#fff;white-space:pre;font-weight:700;transform:scaleX(0.82);transform-origin:left top;-webkit-text-stroke:0.15px #fff;">Quality Assurance</div>
<div class="a" style="left:448.95px;top:514.29px;font-size:4.8px;line-height:5.76px;color:#fff;white-space:pre;font-weight:700;transform:scaleX(0.665);transform-origin:left top;-webkit-text-stroke:0.05px #fff;">NOBO-S RESPONSIBILITY:</div>
<div class="a" style="left:448.95px;top:520.47px;font-size:5.0px;line-height:6.0px;color:#fff;white-space:pre;font-weight:400;transform:scaleX(0.67);transform-origin:left top;-webkit-text-stroke:0.2px #fff;">• Assess quality system, including inspection visit</div>
<div class="a" style="left:448.95px;top:525.47px;font-size:5.0px;line-height:6.0px;color:#fff;white-space:pre;font-weight:400;transform:scaleX(0.67);transform-origin:left top;-webkit-text-stroke:0.2px #fff;">• Conduct surveillance visits to ensure</div>
<div class="a" style="left:450.84999999999997px;top:531.47px;font-size:5.0px;line-height:6.0px;color:#fff;white-space:pre;font-weight:400;transform:scaleX(0.67);transform-origin:left top;-webkit-text-stroke:0.2px #fff;">manufacturer fulfils obligations from</div>
<div class="a" style="left:450.84999999999997px;top:536.47px;font-size:5.0px;line-height:6.0px;color:#fff;white-space:pre;font-weight:400;transform:scaleX(0.67);transform-origin:left top;-webkit-text-stroke:0.2px #fff;">approved quality system</div>
<div class="a" style="left:448.95px;top:541.77px;font-size:5.0px;line-height:6.0px;color:#fff;white-space:pre;font-weight:400;transform:scaleX(0.67);transform-origin:left top;-webkit-text-stroke:0.2px #fff;">• Carry out periodic audits in such a frequency</div>
<div class="a" style="left:450.84999999999997px;top:547.17px;font-size:5.0px;line-height:6.0px;color:#fff;white-space:pre;font-weight:400;transform:scaleX(0.67);transform-origin:left top;-webkit-text-stroke:0.2px #fff;">that a full reassessment is carried out every</div>
<div class="a" style="left:450.84999999999997px;top:552.47px;font-size:5.0px;line-height:6.0px;color:#fff;white-space:pre;font-weight:400;transform:scaleX(0.67);transform-origin:left top;-webkit-text-stroke:0.2px #fff;">three years</div>
<div class="a" style="left:448.95px;top:557.88px;font-size:5.0px;line-height:6.0px;color:#fff;white-space:pre;font-weight:400;transform:scaleX(0.67);transform-origin:left top;-webkit-text-stroke:0.2px #fff;">• Carry out unexpected visits</div>
<div class="a" style="left:448.95px;top:563.47px;font-size:5.0px;line-height:6.0px;color:#fff;white-space:pre;font-weight:400;transform:scaleX(0.67);transform-origin:left top;-webkit-text-stroke:0.2px #fff;">• Assess proposed changes to the quality system</div>
<div class="a" style="left:448.95px;top:569.17px;font-size:5.0px;line-height:6.0px;color:#fff;white-space:pre;font-weight:400;transform:scaleX(0.67);transform-origin:left top;-webkit-text-stroke:0.2px #fff;">• For category III and IV vessels for Group 1 and 2</div>
<div class="a" style="left:450.84999999999997px;top:574.88px;font-size:5.0px;line-height:6.0px;color:#fff;white-space:pre;font-weight:400;transform:scaleX(0.67);transform-origin:left top;-webkit-text-stroke:0.2px #fff;">gases and Group 1 liquids and steam generators,</div>
<div class="a" style="left:450.84999999999997px;top:579.88px;font-size:5.0px;line-height:6.0px;color:#fff;white-space:pre;font-weight:400;transform:scaleX(0.67);transform-origin:left top;-webkit-text-stroke:0.2px #fff;">take a sample of equipment and perform proof</div>
<div class="a" style="left:450.84999999999997px;top:585.47px;font-size:5.0px;line-height:6.0px;color:#fff;white-space:pre;font-weight:400;transform:scaleX(0.67);transform-origin:left top;-webkit-text-stroke:0.2px #fff;">test referred to in Section 3.2.2 of ESRs</div>
<div class="a" style="left:527.5px;top:489px;width:79.2px;height:105.2px;background:#84c6c4"></div>
<div class="a" style="left:530.7px;top:491.98px;font-size:7.3px;line-height:8.76px;color:#0c0d22;white-space:pre;font-weight:700;transform:scaleX(0.7);transform-origin:left top;letter-spacing:0.2px;-webkit-text-stroke:0.25px #0c0d22;">MODULE D1</div>
<div class="a" style="left:530.7px;top:501.21px;font-size:4.4px;line-height:5.28px;color:#0c0d22;white-space:pre;font-weight:700;transform:scaleX(0.82);transform-origin:left top;-webkit-text-stroke:0.15px #0c0d22;">Production Quality Assurance</div>
<div class="a" style="left:530.7px;top:510.29px;font-size:4.8px;line-height:5.76px;color:#0c0d22;white-space:pre;font-weight:700;transform:scaleX(0.665);transform-origin:left top;-webkit-text-stroke:0.05px #0c0d22;">NOBO-S RESPONSIBILITY:</div>
<div class="a" style="left:530.7px;top:515.47px;font-size:5.0px;line-height:6.0px;color:#0c0d22;white-space:pre;font-weight:400;transform:scaleX(0.67);transform-origin:left top;-webkit-text-stroke:0.2px #0c0d22;">• Assess quality system, including</div>
<div class="a" style="left:532.6px;top:520.47px;font-size:5.0px;line-height:6.0px;color:#0c0d22;white-space:pre;font-weight:400;transform:scaleX(0.67);transform-origin:left top;-webkit-text-stroke:0.2px #0c0d22;">inspection visit</div>
<div class="a" style="left:530.7px;top:526.47px;font-size:5.0px;line-height:6.0px;color:#0c0d22;white-space:pre;font-weight:400;transform:scaleX(0.67);transform-origin:left top;-webkit-text-stroke:0.2px #0c0d22;">• Conduct surveillance visits to ensure</div>
<div class="a" style="left:532.6px;top:531.47px;font-size:5.0px;line-height:6.0px;color:#0c0d22;white-space:pre;font-weight:400;transform:scaleX(0.67);transform-origin:left top;-webkit-text-stroke:0.2px #0c0d22;">manufacturer fulfils obligations from</div>
<div class="a" style="left:532.6px;top:536.47px;font-size:5.0px;line-height:6.0px;color:#0c0d22;white-space:pre;font-weight:400;transform:scaleX(0.67);transform-origin:left top;-webkit-text-stroke:0.2px #0c0d22;">approved quality system</div>
<div class="a" style="left:530.7px;top:542.47px;font-size:5.0px;line-height:6.0px;color:#0c0d22;white-space:pre;font-weight:400;transform:scaleX(0.67);transform-origin:left top;-webkit-text-stroke:0.2px #0c0d22;">• Carry out periodic audits in such a</div>
<div class="a" style="left:532.6px;top:547.17px;font-size:5.0px;line-height:6.0px;color:#0c0d22;white-space:pre;font-weight:400;transform:scaleX(0.67);transform-origin:left top;-webkit-text-stroke:0.2px #0c0d22;">frequency that a full reassessment is</div>
<div class="a" style="left:532.6px;top:552.47px;font-size:5.0px;line-height:6.0px;color:#0c0d22;white-space:pre;font-weight:400;transform:scaleX(0.67);transform-origin:left top;-webkit-text-stroke:0.2px #0c0d22;">carried out every three years</div>
<div class="a" style="left:530.7px;top:558.17px;font-size:5.0px;line-height:6.0px;color:#0c0d22;white-space:pre;font-weight:400;transform:scaleX(0.67);transform-origin:left top;-webkit-text-stroke:0.2px #0c0d22;">• Carry out unexpected visits</div>
<div class="a" style="left:530.7px;top:564.47px;font-size:5.0px;line-height:6.0px;color:#0c0d22;white-space:pre;font-weight:400;transform:scaleX(0.67);transform-origin:left top;-webkit-text-stroke:0.2px #0c0d22;">• Assess proposed changes to the quality</div>
<div class="a" style="left:532.6px;top:569.47px;font-size:5.0px;line-height:6.0px;color:#0c0d22;white-space:pre;font-weight:400;transform:scaleX(0.67);transform-origin:left top;-webkit-text-stroke:0.2px #0c0d22;">system</div>
<div class="a" style="left:37.0px;top:597px;width:79.2px;height:119.3px;background:#de8ed0"></div>
<div class="a" style="left:40.2px;top:598.88px;font-size:7.3px;line-height:8.76px;color:#0c0d22;white-space:pre;font-weight:700;transform:scaleX(0.7);transform-origin:left top;letter-spacing:0.2px;-webkit-text-stroke:0.25px #0c0d22;">MODULE E</div>
<div class="a" style="left:40.2px;top:608.01px;font-size:4.4px;line-height:5.28px;color:#0c0d22;white-space:pre;font-weight:700;transform:scaleX(0.82);transform-origin:left top;-webkit-text-stroke:0.15px #0c0d22;">Conformity based on Pressure Equipment</div>
<div class="a" style="left:40.2px;top:613.11px;font-size:4.4px;line-height:5.28px;color:#0c0d22;white-space:pre;font-weight:700;transform:scaleX(0.82);transform-origin:left top;-webkit-text-stroke:0.15px #0c0d22;">Quality Assurance</div>
<div class="a" style="left:40.2px;top:621.49px;font-size:4.8px;line-height:5.76px;color:#0c0d22;white-space:pre;font-weight:700;transform:scaleX(0.665);transform-origin:left top;-webkit-text-stroke:0.05px #0c0d22;">NOBO-S RESPONSIBILITY:</div>
<div class="a" style="left:40.2px;top:626.27px;font-size:5.0px;line-height:6.0px;color:#0c0d22;white-space:pre;font-weight:400;transform:scaleX(0.67);transform-origin:left top;-webkit-text-stroke:0.2px #0c0d22;">• Assess quality system, including inspection</div>
<div class="a" style="left:42.1px;top:631.67px;font-size:5.0px;line-height:6.0px;color:#0c0d22;white-space:pre;font-weight:400;transform:scaleX(0.67);transform-origin:left top;-webkit-text-stroke:0.2px #0c0d22;">visit</div>
<div class="a" style="left:40.2px;top:637.27px;font-size:5.0px;line-height:6.0px;color:#0c0d22;white-space:pre;font-weight:400;transform:scaleX(0.67);transform-origin:left top;-webkit-text-stroke:0.2px #0c0d22;">• Conduct surveillance visits to ensure</div>
<div class="a" style="left:42.1px;top:643.07px;font-size:5.0px;line-height:6.0px;color:#0c0d22;white-space:pre;font-weight:400;transform:scaleX(0.67);transform-origin:left top;-webkit-text-stroke:0.2px #0c0d22;">manufacturer fulfils obligations from</div>
<div class="a" style="left:42.1px;top:648.27px;font-size:5.0px;line-height:6.0px;color:#0c0d22;white-space:pre;font-weight:400;transform:scaleX(0.67);transform-origin:left top;-webkit-text-stroke:0.2px #0c0d22;">approved quality system</div>
<div class="a" style="left:40.2px;top:653.38px;font-size:5.0px;line-height:6.0px;color:#0c0d22;white-space:pre;font-weight:400;transform:scaleX(0.67);transform-origin:left top;-webkit-text-stroke:0.2px #0c0d22;">• Carry out periodic audits in such a frequency</div>
<div class="a" style="left:42.1px;top:658.57px;font-size:5.0px;line-height:6.0px;color:#0c0d22;white-space:pre;font-weight:400;transform:scaleX(0.67);transform-origin:left top;-webkit-text-stroke:0.2px #0c0d22;">that a full reassessment is carried out every</div>
<div class="a" style="left:42.1px;top:664.17px;font-size:5.0px;line-height:6.0px;color:#0c0d22;white-space:pre;font-weight:400;transform:scaleX(0.67);transform-origin:left top;-webkit-text-stroke:0.2px #0c0d22;">three years</div>
<div class="a" style="left:40.2px;top:669.47px;font-size:5.0px;line-height:6.0px;color:#0c0d22;white-space:pre;font-weight:400;transform:scaleX(0.67);transform-origin:left top;-webkit-text-stroke:0.2px #0c0d22;">• Carry out unexpected visits</div>
<div class="a" style="left:40.2px;top:675.38px;font-size:5.0px;line-height:6.0px;color:#0c0d22;white-space:pre;font-weight:400;transform:scaleX(0.67);transform-origin:left top;-webkit-text-stroke:0.2px #0c0d22;">• Assess proposed changes to the quality system</div>
<div class="a" style="left:40.2px;top:681.57px;font-size:5.0px;line-height:6.0px;color:#0c0d22;white-space:pre;font-weight:400;transform:scaleX(0.67);transform-origin:left top;-webkit-text-stroke:0.2px #0c0d22;">• For category III vessels for Group 1 gases,</div>
<div class="a" style="left:42.1px;top:686.77px;font-size:5.0px;line-height:6.0px;color:#0c0d22;white-space:pre;font-weight:400;transform:scaleX(0.67);transform-origin:left top;-webkit-text-stroke:0.2px #0c0d22;">Group 2 gases and Group 1 liquids and steam</div>
<div class="a" style="left:42.1px;top:691.17px;font-size:5.0px;line-height:6.0px;color:#0c0d22;white-space:pre;font-weight:400;transform:scaleX(0.67);transform-origin:left top;-webkit-text-stroke:0.2px #0c0d22;">generators, take a sample of equipment</div>
<div class="a" style="left:42.1px;top:696.67px;font-size:5.0px;line-height:6.0px;color:#0c0d22;white-space:pre;font-weight:400;transform:scaleX(0.67);transform-origin:left top;-webkit-text-stroke:0.2px #0c0d22;">and perform the the proof test referred to in</div>
<div class="a" style="left:42.1px;top:702.17px;font-size:5.0px;line-height:6.0px;color:#0c0d22;white-space:pre;font-weight:400;transform:scaleX(0.67);transform-origin:left top;-webkit-text-stroke:0.2px #0c0d22;">Sec. 3.2.2 of the ESRs</div>
<div class="a" style="left:118.75px;top:597px;width:79.2px;height:119.3px;background:#82c3fd"></div>
<div class="a" style="left:121.95px;top:598.88px;font-size:7.3px;line-height:8.76px;color:#0c0d22;white-space:pre;font-weight:700;transform:scaleX(0.7);transform-origin:left top;letter-spacing:0.2px;-webkit-text-stroke:0.25px #0c0d22;">MODULE E1</div>
<div class="a" style="left:121.95px;top:608.01px;font-size:4.4px;line-height:5.28px;color:#0c0d22;white-space:pre;font-weight:700;transform:scaleX(0.82);transform-origin:left top;-webkit-text-stroke:0.15px #0c0d22;">Quality Assurance of Final Pressure</div>
<div class="a" style="left:121.95px;top:613.11px;font-size:4.4px;line-height:5.28px;color:#0c0d22;white-space:pre;font-weight:700;transform:scaleX(0.82);transform-origin:left top;-webkit-text-stroke:0.15px #0c0d22;">Equipment inspection and testing</div>
<div class="a" style="left:121.95px;top:619.39px;font-size:4.8px;line-height:5.76px;color:#0c0d22;white-space:pre;font-weight:700;transform:scaleX(0.665);transform-origin:left top;-webkit-text-stroke:0.05px #0c0d22;">NOBO-S RESPONSIBILITY:</div>
<div class="a" style="left:121.95px;top:625.57px;font-size:5.0px;line-height:6.0px;color:#0c0d22;white-space:pre;font-weight:400;transform:scaleX(0.67);transform-origin:left top;-webkit-text-stroke:0.2px #0c0d22;">• Assess quality system, including</div>
<div class="a" style="left:123.85000000000001px;top:630.27px;font-size:5.0px;line-height:6.0px;color:#0c0d22;white-space:pre;font-weight:400;transform:scaleX(0.67);transform-origin:left top;-webkit-text-stroke:0.2px #0c0d22;">inspection visit</div>
<div class="a" style="left:121.95px;top:635.47px;font-size:5.0px;line-height:6.0px;color:#0c0d22;white-space:pre;font-weight:400;transform:scaleX(0.67);transform-origin:left top;-webkit-text-stroke:0.2px #0c0d22;">• Conduct surveillance visits to ensure</div>
<div class="a" style="left:123.85000000000001px;top:641.27px;font-size:5.0px;line-height:6.0px;color:#0c0d22;white-space:pre;font-weight:400;transform:scaleX(0.67);transform-origin:left top;-webkit-text-stroke:0.2px #0c0d22;">manufacturer fulfils obligations from</div>
<div class="a" style="left:123.85000000000001px;top:646.47px;font-size:5.0px;line-height:6.0px;color:#0c0d22;white-space:pre;font-weight:400;transform:scaleX(0.67);transform-origin:left top;-webkit-text-stroke:0.2px #0c0d22;">approved quality system</div>
<div class="a" style="left:121.95px;top:652.27px;font-size:5.0px;line-height:6.0px;color:#0c0d22;white-space:pre;font-weight:400;transform:scaleX(0.67);transform-origin:left top;-webkit-text-stroke:0.2px #0c0d22;">• Carry out periodic audits in such a</div>
<div class="a" style="left:123.85000000000001px;top:657.27px;font-size:5.0px;line-height:6.0px;color:#0c0d22;white-space:pre;font-weight:400;transform:scaleX(0.67);transform-origin:left top;-webkit-text-stroke:0.2px #0c0d22;">frequency that a full reassessment is</div>
<div class="a" style="left:123.85000000000001px;top:662.38px;font-size:5.0px;line-height:6.0px;color:#0c0d22;white-space:pre;font-weight:400;transform:scaleX(0.67);transform-origin:left top;-webkit-text-stroke:0.2px #0c0d22;">carried out every three years</div>
<div class="a" style="left:121.95px;top:668.27px;font-size:5.0px;line-height:6.0px;color:#0c0d22;white-space:pre;font-weight:400;transform:scaleX(0.67);transform-origin:left top;-webkit-text-stroke:0.2px #0c0d22;">• Carry out unexpected visits</div>
<div class="a" style="left:121.95px;top:673.38px;font-size:5.0px;line-height:6.0px;color:#0c0d22;white-space:pre;font-weight:400;transform:scaleX(0.67);transform-origin:left top;-webkit-text-stroke:0.2px #0c0d22;">• Assess proposed changes to the quality</div>
<div class="a" style="left:123.85000000000001px;top:679.47px;font-size:5.0px;line-height:6.0px;color:#0c0d22;white-space:pre;font-weight:400;transform:scaleX(0.67);transform-origin:left top;-webkit-text-stroke:0.2px #0c0d22;">system</div>
<div class="a" style="left:200.5px;top:597px;width:79.2px;height:119.3px;background:#feae94"></div>
<div class="a" style="left:203.7px;top:598.88px;font-size:7.3px;line-height:8.76px;color:#0c0d22;white-space:pre;font-weight:700;transform:scaleX(0.7);transform-origin:left top;letter-spacing:0.2px;-webkit-text-stroke:0.25px #0c0d22;">MODULE F</div>
<div class="a" style="left:203.7px;top:608.01px;font-size:4.4px;line-height:5.28px;color:#0c0d22;white-space:pre;font-weight:700;transform:scaleX(0.82);transform-origin:left top;-webkit-text-stroke:0.15px #0c0d22;">Conformity based on Pressure Equipment</div>
<div class="a" style="left:203.7px;top:613.11px;font-size:4.4px;line-height:5.28px;color:#0c0d22;white-space:pre;font-weight:700;transform:scaleX(0.82);transform-origin:left top;-webkit-text-stroke:0.15px #0c0d22;">Verification</div>
<div class="a" style="left:203.7px;top:619.39px;font-size:4.8px;line-height:5.76px;color:#0c0d22;white-space:pre;font-weight:700;transform:scaleX(0.665);transform-origin:left top;-webkit-text-stroke:0.05px #0c0d22;">NOBO-S RESPONSIBILITY:</div>
<div class="a" style="left:203.7px;top:625.57px;font-size:5.0px;line-height:6.0px;color:#0c0d22;white-space:pre;font-weight:400;transform:scaleX(0.67);transform-origin:left top;-webkit-text-stroke:0.2px #0c0d22;">- Examine and test each item of pressure</div>
<div class="a" style="left:205.6px;top:630.27px;font-size:5.0px;line-height:6.0px;color:#0c0d22;white-space:pre;font-weight:400;transform:scaleX(0.67);transform-origin:left top;-webkit-text-stroke:0.2px #0c0d22;">equipment to verify each item conforms to the</div>
<div class="a" style="left:205.6px;top:635.47px;font-size:5.0px;line-height:6.0px;color:#0c0d22;white-space:pre;font-weight:400;transform:scaleX(0.67);transform-origin:left top;-webkit-text-stroke:0.2px #0c0d22;">type and requirements of the Directive</div>
<div class="a" style="left:203.7px;top:641.27px;font-size:5.0px;line-height:6.0px;color:#0c0d22;white-space:pre;font-weight:400;transform:scaleX(0.67);transform-origin:left top;-webkit-text-stroke:0.2px #0c0d22;">- Verify the joining and NDE personnel are</div>
<div class="a" style="left:205.6px;top:646.88px;font-size:5.0px;line-height:6.0px;color:#0c0d22;white-space:pre;font-weight:400;transform:scaleX(0.67);transform-origin:left top;-webkit-text-stroke:0.2px #0c0d22;">qualified or approved</div>
<div class="a" style="left:203.7px;top:652.97px;font-size:5.0px;line-height:6.0px;color:#0c0d22;white-space:pre;font-weight:400;transform:scaleX(0.67);transform-origin:left top;-webkit-text-stroke:0.2px #0c0d22;">- Verify materials manufacturers' certificates</div>
<div class="a" style="left:203.7px;top:659.27px;font-size:5.0px;line-height:6.0px;color:#0c0d22;white-space:pre;font-weight:400;transform:scaleX(0.67);transform-origin:left top;-webkit-text-stroke:0.2px #0c0d22;">- Carry out or have carried out final inspection</div>
<div class="a" style="left:205.6px;top:664.07px;font-size:5.0px;line-height:6.0px;color:#0c0d22;white-space:pre;font-weight:400;transform:scaleX(0.67);transform-origin:left top;-webkit-text-stroke:0.2px #0c0d22;">and proof test as referred to in Section 3.2 of</div>
<div class="a" style="left:205.6px;top:669.17px;font-size:5.0px;line-height:6.0px;color:#0c0d22;white-space:pre;font-weight:400;transform:scaleX(0.67);transform-origin:left top;-webkit-text-stroke:0.2px #0c0d22;">the ESRs</div>
<div class="a" style="left:203.7px;top:675.38px;font-size:5.0px;line-height:6.0px;color:#0c0d22;white-space:pre;font-weight:400;transform:scaleX(0.67);transform-origin:left top;-webkit-text-stroke:0.2px #0c0d22;">- Draw up written CoC for the tests carried out</div>
<div class="a" style="left:282.25px;top:597px;width:79.2px;height:119.3px;background:#d2d2d8"></div>
<div class="a" style="left:285.45px;top:598.88px;font-size:7.3px;line-height:8.76px;color:#0c0d22;white-space:pre;font-weight:700;transform:scaleX(0.7);transform-origin:left top;letter-spacing:0.2px;-webkit-text-stroke:0.25px #0c0d22;">MODULE G</div>
<div class="a" style="left:285.45px;top:608.01px;font-size:4.4px;line-height:5.28px;color:#0c0d22;white-space:pre;font-weight:700;transform:scaleX(0.82);transform-origin:left top;-webkit-text-stroke:0.15px #0c0d22;">Conformity based on Unit Verification</div>
<div class="a" style="left:285.45px;top:615.29px;font-size:4.8px;line-height:5.76px;color:#0c0d22;white-space:pre;font-weight:700;transform:scaleX(0.665);transform-origin:left top;-webkit-text-stroke:0.05px #0c0d22;">NOBO-S RESPONSIBILITY:</div>
<div class="a" style="left:285.45px;top:620.38px;font-size:5.0px;line-height:6.0px;color:#0c0d22;white-space:pre;font-weight:400;transform:scaleX(0.67);transform-origin:left top;-webkit-text-stroke:0.2px #0c0d22;">• Examine design and construction of each item</div>
<div class="a" style="left:285.45px;top:625.57px;font-size:5.0px;line-height:6.0px;color:#0c0d22;white-space:pre;font-weight:400;transform:scaleX(0.67);transform-origin:left top;-webkit-text-stroke:0.2px #0c0d22;">• Examine technical documentation with</div>
<div class="a" style="left:287.34999999999997px;top:631.38px;font-size:5.0px;line-height:6.0px;color:#0c0d22;white-space:pre;font-weight:400;transform:scaleX(0.67);transform-origin:left top;-webkit-text-stroke:0.2px #0c0d22;">respect to design and manufacturing</div>
<div class="a" style="left:287.34999999999997px;top:636.47px;font-size:5.0px;line-height:6.0px;color:#0c0d22;white-space:pre;font-weight:400;transform:scaleX(0.67);transform-origin:left top;-webkit-text-stroke:0.2px #0c0d22;">procedures</div>
<div class="a" style="left:285.45px;top:642.38px;font-size:5.0px;line-height:6.0px;color:#0c0d22;white-space:pre;font-weight:400;transform:scaleX(0.67);transform-origin:left top;-webkit-text-stroke:0.2px #0c0d22;">• Assess materials</div>
<div class="a" style="left:285.45px;top:648.17px;font-size:5.0px;line-height:6.0px;color:#0c0d22;white-space:pre;font-weight:400;transform:scaleX(0.67);transform-origin:left top;-webkit-text-stroke:0.2px #0c0d22;">• Verify material manufacturers' certificates</div>
<div class="a" style="left:285.45px;top:653.38px;font-size:5.0px;line-height:6.0px;color:#0c0d22;white-space:pre;font-weight:400;transform:scaleX(0.67);transform-origin:left top;-webkit-text-stroke:0.2px #0c0d22;">• Approve procedures for permanent joining of</div>
<div class="a" style="left:287.34999999999997px;top:658.57px;font-size:5.0px;line-height:6.0px;color:#0c0d22;white-space:pre;font-weight:400;transform:scaleX(0.67);transform-origin:left top;-webkit-text-stroke:0.2px #0c0d22;">parts or check previous approval</div>
<div class="a" style="left:285.45px;top:664.38px;font-size:5.0px;line-height:6.0px;color:#0c0d22;white-space:pre;font-weight:400;transform:scaleX(0.67);transform-origin:left top;-webkit-text-stroke:0.2px #0c0d22;">• Verify the joining and NDE personnel are</div>
<div class="a" style="left:287.34999999999997px;top:669.88px;font-size:5.0px;line-height:6.0px;color:#0c0d22;white-space:pre;font-weight:400;transform:scaleX(0.67);transform-origin:left top;-webkit-text-stroke:0.2px #0c0d22;">qualified or approved</div>
<div class="a" style="left:285.45px;top:675.67px;font-size:5.0px;line-height:6.0px;color:#0c0d22;white-space:pre;font-weight:400;transform:scaleX(0.67);transform-origin:left top;-webkit-text-stroke:0.2px #0c0d22;">• Perform appropriate tests during manufacture</div>
<div class="a" style="left:285.45px;top:681.57px;font-size:5.0px;line-height:6.0px;color:#0c0d22;white-space:pre;font-weight:400;transform:scaleX(0.67);transform-origin:left top;-webkit-text-stroke:0.2px #0c0d22;">• Carry out final inspection and perform or</div>
<div class="a" style="left:287.34999999999997px;top:686.67px;font-size:5.0px;line-height:6.0px;color:#0c0d22;white-space:pre;font-weight:400;transform:scaleX(0.67);transform-origin:left top;-webkit-text-stroke:0.2px #0c0d22;">have performed proof test as referred to in</div>
<div class="a" style="left:287.34999999999997px;top:691.17px;font-size:5.0px;line-height:6.0px;color:#0c0d22;white-space:pre;font-weight:400;transform:scaleX(0.67);transform-origin:left top;-webkit-text-stroke:0.2px #0c0d22;">Section 3.2 of the ESRs</div>
<div class="a" style="left:285.45px;top:697.38px;font-size:5.0px;line-height:6.0px;color:#0c0d22;white-space:pre;font-weight:400;transform:scaleX(0.67);transform-origin:left top;-webkit-text-stroke:0.2px #0c0d22;">• Draw up CoC for the tests carried out</div>
<div class="a" style="left:364.0px;top:597px;width:79.2px;height:119.3px;background:#90f7d9"></div>
<div class="a" style="left:367.2px;top:598.88px;font-size:7.3px;line-height:8.76px;color:#0c0d22;white-space:pre;font-weight:700;transform:scaleX(0.7);transform-origin:left top;letter-spacing:0.2px;-webkit-text-stroke:0.25px #0c0d22;">MODULE H</div>
<div class="a" style="left:367.2px;top:608.01px;font-size:4.4px;line-height:5.28px;color:#0c0d22;white-space:pre;font-weight:700;transform:scaleX(0.82);transform-origin:left top;-webkit-text-stroke:0.15px #0c0d22;">Conformity based on Full Quality Assurance</div>
<div class="a" style="left:367.2px;top:615.29px;font-size:4.8px;line-height:5.76px;color:#0c0d22;white-space:pre;font-weight:700;transform:scaleX(0.665);transform-origin:left top;-webkit-text-stroke:0.05px #0c0d22;">NOBO-S RESPONSIBILITY:</div>
<div class="a" style="left:367.2px;top:620.38px;font-size:5.0px;line-height:6.0px;color:#0c0d22;white-space:pre;font-weight:400;transform:scaleX(0.67);transform-origin:left top;-webkit-text-stroke:0.2px #0c0d22;">• Assess quality system, including inspection visit</div>
<div class="a" style="left:367.2px;top:625.57px;font-size:5.0px;line-height:6.0px;color:#0c0d22;white-space:pre;font-weight:400;transform:scaleX(0.67);transform-origin:left top;-webkit-text-stroke:0.2px #0c0d22;">• Conduct surveillance visits to ensure</div>
<div class="a" style="left:369.09999999999997px;top:631.38px;font-size:5.0px;line-height:6.0px;color:#0c0d22;white-space:pre;font-weight:400;transform:scaleX(0.67);transform-origin:left top;-webkit-text-stroke:0.2px #0c0d22;">manufacturer fulfils obligations from</div>
<div class="a" style="left:369.09999999999997px;top:636.47px;font-size:5.0px;line-height:6.0px;color:#0c0d22;white-space:pre;font-weight:400;transform:scaleX(0.67);transform-origin:left top;-webkit-text-stroke:0.2px #0c0d22;">approved quality system</div>
<div class="a" style="left:367.2px;top:642.38px;font-size:5.0px;line-height:6.0px;color:#0c0d22;white-space:pre;font-weight:400;transform:scaleX(0.67);transform-origin:left top;-webkit-text-stroke:0.2px #0c0d22;">• Carry out periodic audits in such a frequency</div>
<div class="a" style="left:369.09999999999997px;top:647.57px;font-size:5.0px;line-height:6.0px;color:#0c0d22;white-space:pre;font-weight:400;transform:scaleX(0.67);transform-origin:left top;-webkit-text-stroke:0.2px #0c0d22;">that a full reassessment is carried out every</div>
<div class="a" style="left:369.09999999999997px;top:652.38px;font-size:5.0px;line-height:6.0px;color:#0c0d22;white-space:pre;font-weight:400;transform:scaleX(0.67);transform-origin:left top;-webkit-text-stroke:0.2px #0c0d22;">three years</div>
<div class="a" style="left:367.2px;top:658.57px;font-size:5.0px;line-height:6.0px;color:#0c0d22;white-space:pre;font-weight:400;transform:scaleX(0.67);transform-origin:left top;-webkit-text-stroke:0.2px #0c0d22;">• Carry out unexpected visits</div>
<div class="a" style="left:367.2px;top:663.67px;font-size:5.0px;line-height:6.0px;color:#0c0d22;white-space:pre;font-weight:400;transform:scaleX(0.67);transform-origin:left top;-webkit-text-stroke:0.2px #0c0d22;">• Assess proposed changes to the quality system</div>
<div class="a" style="left:367.2px;top:669.17px;font-size:5.0px;line-height:6.0px;color:#0c0d22;white-space:pre;font-weight:400;transform:scaleX(0.67);transform-origin:left top;-webkit-text-stroke:0.2px #0c0d22;">• For category III vessels for Group 1 gases,</div>
<div class="a" style="left:369.09999999999997px;top:674.47px;font-size:5.0px;line-height:6.0px;color:#0c0d22;white-space:pre;font-weight:400;transform:scaleX(0.67);transform-origin:left top;-webkit-text-stroke:0.2px #0c0d22;">Group 2 gases and Group 1 liquids and steam</div>
<div class="a" style="left:369.09999999999997px;top:680.17px;font-size:5.0px;line-height:6.0px;color:#0c0d22;white-space:pre;font-weight:400;transform:scaleX(0.67);transform-origin:left top;-webkit-text-stroke:0.2px #0c0d22;">generators, take a sample of equipment and</div>
<div class="a" style="left:369.09999999999997px;top:685.67px;font-size:5.0px;line-height:6.0px;color:#0c0d22;white-space:pre;font-weight:400;transform:scaleX(0.67);transform-origin:left top;-webkit-text-stroke:0.2px #0c0d22;">perform or have performed the proof test</div>
<div class="a" style="left:369.09999999999997px;top:690.47px;font-size:5.0px;line-height:6.0px;color:#0c0d22;white-space:pre;font-weight:400;transform:scaleX(0.67);transform-origin:left top;-webkit-text-stroke:0.2px #0c0d22;">referred to in Section 3.2.2 of the ESRs</div>
<div class="a" style="left:367.2px;top:696.27px;font-size:5.0px;line-height:6.0px;color:#0c0d22;white-space:pre;font-weight:400;transform:scaleX(0.67);transform-origin:left top;-webkit-text-stroke:0.2px #0c0d22;">• For one-off production of category III steam</div>
<div class="a" style="left:369.09999999999997px;top:701.57px;font-size:5.0px;line-height:6.0px;color:#0c0d22;white-space:pre;font-weight:400;transform:scaleX(0.67);transform-origin:left top;-webkit-text-stroke:0.2px #0c0d22;">generators, the proof test must be performed</div>
<div class="a" style="left:369.09999999999997px;top:706.38px;font-size:5.0px;line-height:6.0px;color:#0c0d22;white-space:pre;font-weight:400;transform:scaleX(0.67);transform-origin:left top;-webkit-text-stroke:0.2px #0c0d22;">for each unit</div>
<div class="a" style="left:445.75px;top:597px;width:79.2px;height:119.3px;background:#fee0d8"></div>
<div class="a" style="left:448.95px;top:598.88px;font-size:7.3px;line-height:8.76px;color:#0c0d22;white-space:pre;font-weight:700;transform:scaleX(0.7);transform-origin:left top;letter-spacing:0.2px;-webkit-text-stroke:0.25px #0c0d22;">MODULE H1</div>
<div class="a" style="left:448.95px;top:608.01px;font-size:4.4px;line-height:5.28px;color:#0c0d22;white-space:pre;font-weight:700;transform:scaleX(0.82);transform-origin:left top;-webkit-text-stroke:0.15px #0c0d22;">Conformity based on Full Quality Assurance</div>
<div class="a" style="left:448.95px;top:613.11px;font-size:4.4px;line-height:5.28px;color:#0c0d22;white-space:pre;font-weight:700;transform:scaleX(0.82);transform-origin:left top;-webkit-text-stroke:0.15px #0c0d22;">plus design examination</div>
<div class="a" style="left:448.95px;top:619.39px;font-size:4.8px;line-height:5.76px;color:#0c0d22;white-space:pre;font-weight:700;transform:scaleX(0.665);transform-origin:left top;-webkit-text-stroke:0.05px #0c0d22;">NOBO-S RESPONSIBILITY:</div>
<div class="a" style="left:448.95px;top:624.17px;font-size:5.0px;line-height:6.0px;color:#0c0d22;white-space:pre;font-weight:400;transform:scaleX(0.67);transform-origin:left top;-webkit-text-stroke:0.2px #0c0d22;">In addition to the requirements of Module H:</div>
<div class="a" style="left:448.95px;top:631.07px;font-size:5.0px;line-height:6.0px;color:#0c0d22;white-space:pre;font-weight:400;transform:scaleX(0.67);transform-origin:left top;-webkit-text-stroke:0.2px #0c0d22;">• Issue an EC design examination certificate</div>
<div class="a" style="left:448.95px;top:636.17px;font-size:5.0px;line-height:6.0px;color:#0c0d22;white-space:pre;font-weight:400;transform:scaleX(0.67);transform-origin:left top;-webkit-text-stroke:0.2px #0c0d22;">• Carry out increased surveillance of the final</div>
<div class="a" style="left:450.84999999999997px;top:641.38px;font-size:5.0px;line-height:6.0px;color:#0c0d22;white-space:pre;font-weight:400;transform:scaleX(0.67);transform-origin:left top;-webkit-text-stroke:0.2px #0c0d22;">assessment in the form of unexpected visits</div>
<div class="a" style="left:450.84999999999997px;top:646.47px;font-size:5.0px;line-height:6.0px;color:#0c0d22;white-space:pre;font-weight:400;transform:scaleX(0.67);transform-origin:left top;-webkit-text-stroke:0.2px #0c0d22;">which must include examinations on the</div>
<div class="a" style="left:450.84999999999997px;top:651.57px;font-size:5.0px;line-height:6.0px;color:#0c0d22;white-space:pre;font-weight:400;transform:scaleX(0.67);transform-origin:left top;-webkit-text-stroke:0.2px #0c0d22;">pressure equipment</div>
<div class="a" style="left:448.95px;top:656.77px;font-size:5.0px;line-height:6.0px;color:#0c0d22;white-space:pre;font-weight:400;transform:scaleX(0.67);transform-origin:left top;-webkit-text-stroke:0.2px #0c0d22;">• Assess any modifications to the approved</div>
<div class="a" style="left:450.84999999999997px;top:661.38px;font-size:5.0px;line-height:6.0px;color:#0c0d22;white-space:pre;font-weight:400;transform:scaleX(0.67);transform-origin:left top;-webkit-text-stroke:0.2px #0c0d22;">design and give additional approval</div>
<div class="a" style="left:527.5px;top:597px;width:79.2px;height:119.3px;background:#c01f98"></div>
<div class="a" style="left:530.7px;top:598.88px;font-size:7.3px;line-height:8.76px;color:#fff;white-space:pre;font-weight:700;transform:scaleX(0.7);transform-origin:left top;letter-spacing:0.2px;-webkit-text-stroke:0.25px #fff;">MODULE SEP</div>
<div class="a" style="left:530.7px;top:608.01px;font-size:4.4px;line-height:5.28px;color:#fff;white-space:pre;font-weight:700;transform:scaleX(0.82);transform-origin:left top;-webkit-text-stroke:0.15px #fff;">Sound Engineering Practice</div>
<div class="a" style="left:530.7px;top:615.29px;font-size:4.8px;line-height:5.76px;color:#fff;white-space:pre;font-weight:700;transform:scaleX(0.665);transform-origin:left top;-webkit-text-stroke:0.05px #fff;">NOBO-S RESPONSIBILITY:</div>
<div class="a" style="left:530.7px;top:620.38px;font-size:5.0px;line-height:6.0px;color:#fff;white-space:pre;font-weight:400;transform:scaleX(0.67);transform-origin:left top;-webkit-text-stroke:0.2px #fff;">- None</div>
<div class="a" style="left:39.3px;top:728.3px;font-size:19.2px;line-height:24px;color:#14163c;white-space:nowrap;font-weight:400;transform:scaleX(1.1009);transform-origin:left top;">To</div>
<div class="a" style="left:67.2px;top:728.3px;font-size:19.2px;line-height:24px;color:#14163c;white-space:nowrap;font-weight:400;transform:scaleX(1.082);transform-origin:left top;">find</div>
<div class="a" style="left:107.2px;top:728.3px;font-size:19.2px;line-height:24px;color:#14163c;white-space:nowrap;font-weight:400;transform:scaleX(1.0791);transform-origin:left top;">out</div>
<div class="a" style="left:142.6px;top:728.3px;font-size:19.2px;line-height:24px;color:#14163c;white-space:nowrap;font-weight:400;transform:scaleX(1.0544);transform-origin:left top;">how</div>
<div class="a" style="left:187.2px;top:728.3px;font-size:19.2px;line-height:24px;color:#14163c;white-space:nowrap;font-weight:400;transform:scaleX(0.9259);transform-origin:left top;">LRQA</div>
<div class="a" style="left:241.6px;top:728.3px;font-size:19.2px;line-height:24px;color:#14163c;white-space:nowrap;font-weight:400;transform:scaleX(0.9464);transform-origin:left top;">can</div>
<div class="a" style="left:277.9px;top:728.3px;font-size:19.2px;line-height:24px;color:#14163c;white-space:nowrap;font-weight:400;transform:scaleX(0.9866);transform-origin:left top;">help</div>
<div class="a" style="left:319.5px;top:728.3px;font-size:19.2px;line-height:24px;color:#14163c;white-space:nowrap;font-weight:400;transform:scaleX(1.1023);transform-origin:left top;">you,</div>
<div class="a" style="left:366.5px;top:728.3px;font-size:19.2px;line-height:24px;color:#14163c;white-space:nowrap;font-weight:400;transform:scaleX(1.1127);transform-origin:left top;">visit</div>
<div class="a" style="left:410.81px;top:728.3px;font-size:19.2px;line-height:24px;color:#14163c;white-space:nowrap;font-weight:700;transform:scaleX(1.1131);transform-origin:left top;-webkit-text-stroke:0.2px #14163c;">www.lrqa.com</div>
<div class="a" style="left:38px;top:776px;width:92px;height:92px;border:3.7px solid #11efb1;box-sizing:border-box"></div>
<div class="a" style="left:362.2px;top:851px;font-size:4.6px;line-height:5.35px;color:#14163c;white-space:nowrap;font-weight:400;transform:scaleX(1.0673);transform-origin:left top;white-space:pre;-webkit-text-stroke:0.12px #14163c;">Care is taken to ensure that all information provided is accurate and up to date; however,
LRQA accepts no responsibility for inaccuracies in or changes to information.
For more information on LRQA, visit <b>www.lrqa.com/entities</b>. © LRQA Group Limited 2021.</div>
</body></html>
